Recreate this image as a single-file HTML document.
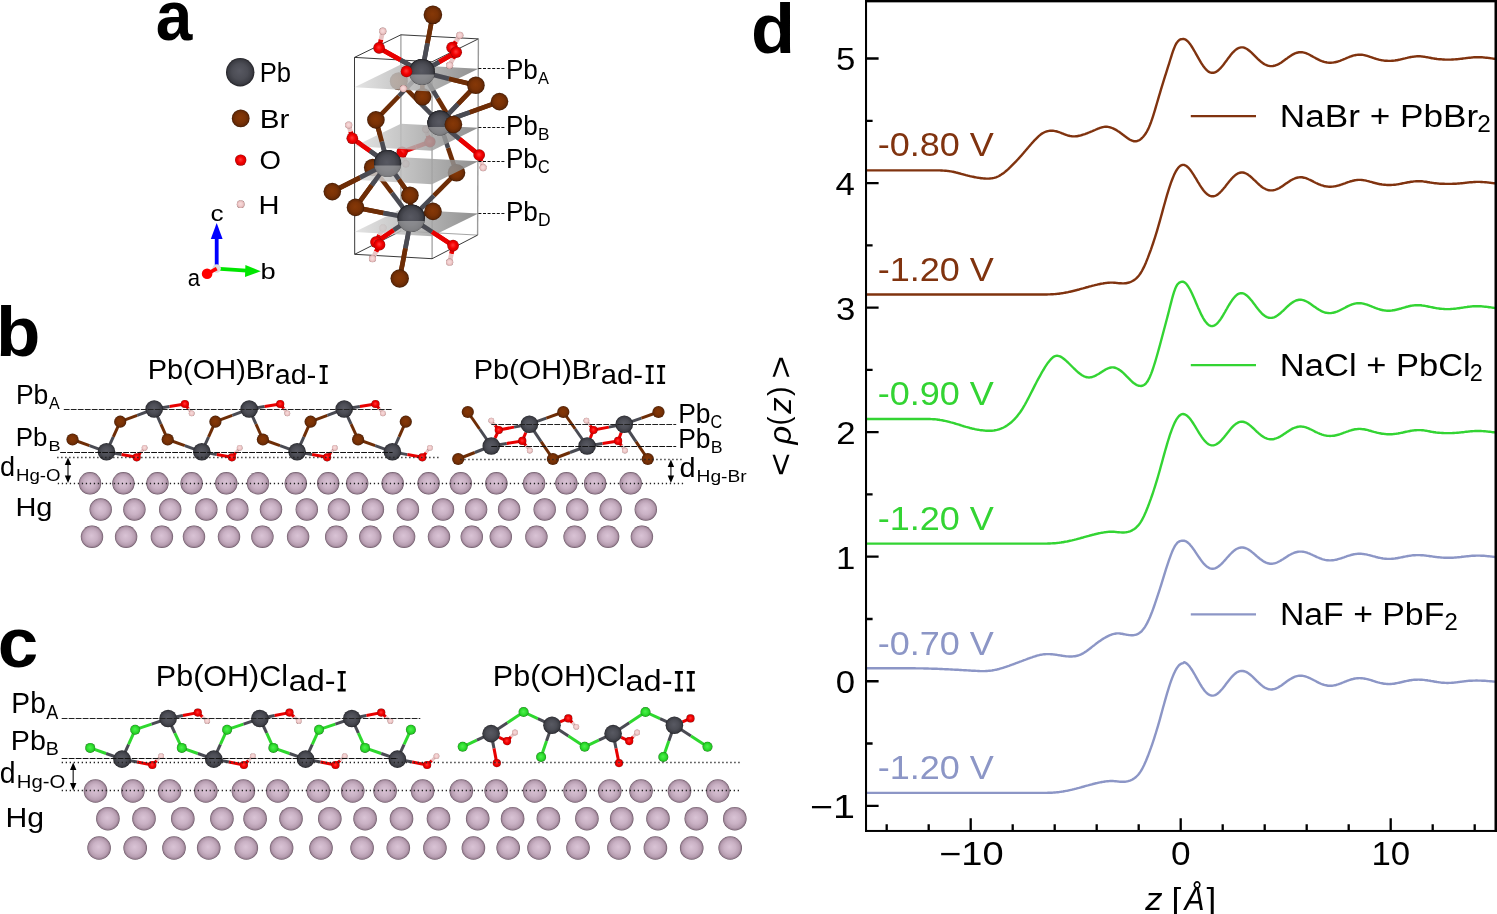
<!DOCTYPE html><html><head><meta charset="utf-8"><style>html,body{margin:0;padding:0;background:#fff;overflow:hidden}svg{display:block}</style></head><body>
<svg width="1497" height="914" viewBox="0 0 1497 914">
<defs><radialGradient id="gPb" cx="0.5" cy="0.5" r="0.5" fx="0.47" fy="0.45"><stop offset="0" stop-color="#585962"/><stop offset="0.55" stop-color="#4c4d55"/><stop offset="0.85" stop-color="#3c3d44"/><stop offset="0.95" stop-color="#2c2c32"/><stop offset="1" stop-color="#1c1c20"/></radialGradient><radialGradient id="gBr" cx="0.5" cy="0.5" r="0.5" fx="0.47" fy="0.45"><stop offset="0" stop-color="#863807"/><stop offset="0.55" stop-color="#7a3206"/><stop offset="0.85" stop-color="#652905"/><stop offset="0.95" stop-color="#4e1f04"/><stop offset="1" stop-color="#361502"/></radialGradient><radialGradient id="gO" cx="0.5" cy="0.5" r="0.5" fx="0.47" fy="0.45"><stop offset="0" stop-color="#ff3a3a"/><stop offset="0.55" stop-color="#f40000"/><stop offset="0.85" stop-color="#d80000"/><stop offset="0.95" stop-color="#b00000"/><stop offset="1" stop-color="#7a0000"/></radialGradient><radialGradient id="gH" cx="0.5" cy="0.5" r="0.5" fx="0.47" fy="0.45"><stop offset="0" stop-color="#f8dcdc"/><stop offset="0.55" stop-color="#f0cccc"/><stop offset="0.85" stop-color="#e0b4b4"/><stop offset="0.95" stop-color="#c89a9a"/><stop offset="1" stop-color="#9a7070"/></radialGradient><radialGradient id="gHg" cx="0.5" cy="0.5" r="0.5" fx="0.47" fy="0.45"><stop offset="0" stop-color="#d9c3d5"/><stop offset="0.5" stop-color="#cab2c5"/><stop offset="0.8" stop-color="#b69db0"/><stop offset="0.92" stop-color="#9a8194"/><stop offset="1" stop-color="#5e4b59"/></radialGradient><radialGradient id="gCl" cx="0.5" cy="0.5" r="0.5" fx="0.47" fy="0.45"><stop offset="0" stop-color="#50f050"/><stop offset="0.55" stop-color="#30e030"/><stop offset="0.85" stop-color="#22c222"/><stop offset="0.95" stop-color="#189818"/><stop offset="1" stop-color="#0c600c"/></radialGradient><radialGradient id="gGr" cx="0.5" cy="0.5" r="0.5" fx="0.47" fy="0.45"><stop offset="0" stop-color="#eeeeee"/><stop offset="0.7" stop-color="#dddddd"/><stop offset="1" stop-color="#aaaaaa"/></radialGradient><linearGradient id="gPlane" x1="0" y1="0" x2="1" y2="0"><stop offset="0" stop-color="#e0e0e0"/><stop offset="0.5" stop-color="#b0b0b0"/><stop offset="1" stop-color="#7c7c7c"/></linearGradient></defs>
<rect width="1497" height="914" fill="#fff"/>
<g fill="none" stroke-width="2.4" stroke-linejoin="round">
<path d="M866.0 792.9L867.0 792.9 868.0 792.9 869.0 792.9 870.0 792.9 871.0 792.9 872.0 792.9 873.0 792.9 874.0 792.9 875.0 792.9 876.0 792.9 877.0 792.9 878.0 792.9 879.0 792.9 880.0 792.9 881.0 792.9 882.0 792.9 883.0 792.9 884.0 792.9 885.0 792.9 886.0 792.9 887.0 792.9 888.0 792.9 889.0 792.9 890.0 792.9 891.0 792.9 892.0 792.9 893.0 792.9 894.0 792.9 895.0 792.9 896.0 792.9 897.0 792.9 898.0 792.9 899.0 792.9 900.0 792.9 901.0 792.9 902.0 792.9 903.0 792.9 904.0 792.9 905.0 792.9 906.0 792.9 907.0 792.9 908.0 792.9 909.0 792.9 910.0 792.9 911.0 792.9 912.0 792.9 913.0 792.9 914.0 792.9 915.0 792.9 916.0 792.9 917.0 792.9 918.0 792.9 919.0 792.9 920.0 792.9 921.0 792.9 922.0 792.9 923.0 792.9 924.0 792.9 925.0 792.9 926.0 792.9 927.0 792.9 928.0 792.9 929.0 792.9 930.0 792.9 931.0 792.9 932.0 792.9 933.0 792.9 934.0 792.9 935.0 792.9 936.0 792.9 937.0 792.9 938.0 792.9 939.0 792.9 940.0 792.9 941.0 792.9 942.0 792.9 943.0 792.9 944.0 792.9 945.0 792.9 946.0 792.9 947.0 792.9 948.0 792.9 949.0 792.9 950.0 792.9 951.0 792.9 952.0 792.9 953.0 792.9 954.0 792.9 955.0 792.9 956.0 792.9 957.0 792.9 958.0 792.9 959.0 792.9 960.0 792.9 961.0 792.9 962.0 792.9 963.0 792.9 964.0 792.9 965.0 792.9 966.0 792.9 967.0 792.9 968.0 792.9 969.0 792.9 970.0 792.9 971.0 792.9 972.0 792.9 973.0 792.9 974.0 792.9 975.0 792.9 976.0 792.9 977.0 792.9 978.0 792.9 979.0 792.9 980.0 792.9 981.0 792.9 982.0 792.9 983.0 792.9 984.0 792.9 985.0 792.9 986.0 792.9 987.0 792.9 988.0 792.9 989.0 792.9 990.0 792.9 991.0 792.9 992.0 792.9 993.0 792.9 994.0 792.9 995.0 792.9 996.0 792.9 997.0 792.9 998.0 792.9 999.0 792.9 1000.0 792.9 1001.0 792.9 1002.0 792.9 1003.0 792.9 1004.0 792.9 1005.0 792.9 1006.0 792.9 1007.0 792.9 1008.0 792.9 1009.0 792.9 1010.0 792.9 1011.0 792.9 1012.0 792.9 1013.0 792.9 1014.0 792.9 1015.0 792.9 1016.0 792.9 1017.0 792.9 1018.0 792.9 1019.0 792.9 1020.0 792.9 1021.0 792.9 1022.0 792.9 1023.0 792.9 1024.0 792.9 1025.0 792.9 1026.0 792.9 1027.0 792.9 1028.0 792.9 1029.0 792.9 1030.0 792.9 1031.0 792.9 1032.0 792.9 1033.0 792.9 1034.0 792.9 1035.0 792.9 1036.0 792.9 1037.0 792.9 1038.0 792.9 1039.0 792.9 1040.0 792.9 1041.0 792.9 1042.0 792.9 1043.0 792.9 1044.0 792.9 1045.0 792.9 1046.0 792.9 1047.0 792.9 1048.0 792.8 1049.0 792.8 1050.0 792.8 1051.0 792.7 1052.0 792.7 1053.0 792.6 1054.0 792.5 1055.0 792.5 1056.0 792.4 1057.0 792.3 1058.0 792.2 1059.0 792.1 1060.0 791.9 1061.0 791.8 1062.0 791.6 1063.0 791.5 1064.0 791.3 1065.0 791.1 1066.0 790.9 1067.0 790.8 1068.0 790.6 1069.0 790.3 1070.0 790.1 1071.0 789.9 1072.0 789.7 1073.0 789.4 1074.0 789.2 1075.0 788.9 1076.0 788.7 1077.0 788.4 1078.0 788.1 1079.0 787.9 1080.0 787.6 1081.0 787.3 1082.0 787.0 1083.0 786.8 1084.0 786.5 1085.0 786.2 1086.0 785.9 1087.0 785.6 1088.0 785.4 1089.0 785.1 1090.0 784.8 1091.0 784.6 1092.0 784.3 1093.0 784.0 1094.0 783.8 1095.0 783.5 1096.0 783.3 1097.0 783.1 1098.0 782.8 1099.0 782.6 1100.0 782.4 1101.0 782.2 1102.0 782.0 1103.0 781.9 1104.0 781.7 1105.0 781.5 1106.0 781.4 1107.0 781.3 1108.0 781.2 1109.0 781.1 1110.0 781.0 1111.0 781.0 1112.0 781.0 1113.0 781.0 1114.0 781.1 1115.0 781.2 1116.0 781.3 1117.0 781.4 1118.0 781.5 1119.0 781.6 1120.0 781.7 1121.0 781.7 1122.0 781.8 1123.0 781.8 1124.0 781.8 1125.0 781.7 1126.0 781.6 1127.0 781.4 1128.0 781.2 1129.0 780.9 1130.0 780.6 1131.0 780.2 1132.0 779.7 1133.0 779.1 1134.0 778.5 1135.0 777.8 1136.0 777.0 1137.0 776.0 1138.0 775.0 1139.0 773.8 1140.0 772.4 1141.0 770.9 1142.0 769.2 1143.0 767.3 1144.0 765.3 1145.0 763.1 1146.0 760.8 1147.0 758.3 1148.0 755.8 1149.0 753.1 1150.0 750.4 1151.0 747.7 1152.0 744.8 1153.0 741.9 1154.0 738.8 1155.0 735.7 1156.0 732.5 1157.0 729.2 1158.0 725.8 1159.0 722.3 1160.0 718.8 1161.0 715.1 1162.0 711.5 1163.0 707.8 1164.0 704.2 1165.0 700.6 1166.0 697.1 1167.0 693.6 1168.0 690.3 1169.0 687.1 1170.0 684.0 1171.0 681.1 1172.0 678.4 1173.0 675.9 1174.0 673.5 1175.0 671.4 1176.0 669.5 1177.0 667.9 1178.0 666.5 1179.0 665.3 1180.0 664.5 1181.0 663.8 1182.0 663.4 1183.0 663.3 1184.0 662.2 1185.0 662.5 1186.0 663.1 1187.0 663.8 1188.0 664.7 1189.0 665.8 1190.0 667.1 1191.0 668.5 1192.0 670.0 1193.0 671.6 1194.0 673.3 1195.0 675.0 1196.0 676.8 1197.0 678.6 1198.0 680.4 1199.0 682.2 1200.0 683.9 1201.0 685.5 1202.0 687.1 1203.0 688.6 1204.0 689.9 1205.0 691.2 1206.0 692.3 1207.0 693.2 1208.0 694.0 1209.0 694.7 1210.0 695.1 1211.0 695.5 1212.0 695.6 1213.0 695.6 1214.0 695.4 1215.0 695.1 1216.0 694.6 1217.0 694.0 1218.0 693.2 1219.0 692.4 1220.0 691.4 1221.0 690.3 1222.0 689.2 1223.0 688.0 1224.0 686.7 1225.0 685.4 1226.0 684.1 1227.0 682.8 1228.0 681.5 1229.0 680.2 1230.0 678.9 1231.0 677.7 1232.0 676.6 1233.0 675.6 1234.0 674.6 1235.0 673.8 1236.0 673.0 1237.0 672.3 1238.0 671.8 1239.0 671.4 1240.0 671.1 1241.0 671.0 1242.0 670.9 1243.0 671.0 1244.0 671.2 1245.0 671.5 1246.0 671.9 1247.0 672.4 1248.0 673.0 1249.0 673.7 1250.0 674.5 1251.0 675.3 1252.0 676.2 1253.0 677.1 1254.0 678.1 1255.0 679.1 1256.0 680.1 1257.0 681.1 1258.0 682.0 1259.0 683.0 1260.0 683.9 1261.0 684.8 1262.0 685.6 1263.0 686.4 1264.0 687.1 1265.0 687.7 1266.0 688.2 1267.0 688.6 1268.0 689.0 1269.0 689.3 1270.0 689.4 1271.0 689.5 1272.0 689.5 1273.0 689.3 1274.0 689.1 1275.0 688.8 1276.0 688.5 1277.0 688.0 1278.0 687.5 1279.0 686.9 1280.0 686.3 1281.0 685.7 1282.0 685.0 1283.0 684.2 1284.0 683.5 1285.0 682.8 1286.0 682.0 1287.0 681.3 1288.0 680.6 1289.0 679.9 1290.0 679.3 1291.0 678.7 1292.0 678.1 1293.0 677.6 1294.0 677.1 1295.0 676.7 1296.0 676.4 1297.0 676.1 1298.0 675.9 1299.0 675.8 1300.0 675.7 1301.0 675.7 1302.0 675.8 1303.0 675.9 1304.0 676.1 1305.0 676.3 1306.0 676.6 1307.0 677.0 1308.0 677.4 1309.0 677.8 1310.0 678.2 1311.0 678.7 1312.0 679.2 1313.0 679.7 1314.0 680.3 1315.0 680.8 1316.0 681.3 1317.0 681.9 1318.0 682.4 1319.0 682.9 1320.0 683.3 1321.0 683.8 1322.0 684.2 1323.0 684.5 1324.0 684.8 1325.0 685.1 1326.0 685.3 1327.0 685.5 1328.0 685.7 1329.0 685.7 1330.0 685.8 1331.0 685.7 1332.0 685.7 1333.0 685.6 1334.0 685.4 1335.0 685.2 1336.0 685.0 1337.0 684.7 1338.0 684.4 1339.0 684.0 1340.0 683.7 1341.0 683.3 1342.0 682.9 1343.0 682.5 1344.0 682.1 1345.0 681.7 1346.0 681.3 1347.0 680.9 1348.0 680.5 1349.0 680.2 1350.0 679.8 1351.0 679.5 1352.0 679.2 1353.0 679.0 1354.0 678.7 1355.0 678.5 1356.0 678.4 1357.0 678.3 1358.0 678.2 1359.0 678.1 1360.0 678.1 1361.0 678.2 1362.0 678.3 1363.0 678.4 1364.0 678.5 1365.0 678.7 1366.0 678.9 1367.0 679.1 1368.0 679.3 1369.0 679.6 1370.0 679.9 1371.0 680.2 1372.0 680.5 1373.0 680.8 1374.0 681.1 1375.0 681.5 1376.0 681.8 1377.0 682.1 1378.0 682.4 1379.0 682.6 1380.0 682.9 1381.0 683.1 1382.0 683.3 1383.0 683.5 1384.0 683.7 1385.0 683.8 1386.0 683.9 1387.0 684.0 1388.0 684.0 1389.0 684.1 1390.0 684.0 1391.0 684.0 1392.0 683.9 1393.0 683.8 1394.0 683.7 1395.0 683.5 1396.0 683.3 1397.0 683.1 1398.0 682.9 1399.0 682.7 1400.0 682.5 1401.0 682.3 1402.0 682.0 1403.0 681.8 1404.0 681.5 1405.0 681.3 1406.0 681.1 1407.0 680.9 1408.0 680.7 1409.0 680.5 1410.0 680.3 1411.0 680.2 1412.0 680.0 1413.0 679.9 1414.0 679.8 1415.0 679.8 1416.0 679.7 1417.0 679.7 1418.0 679.6 1419.0 679.6 1420.0 679.7 1421.0 679.7 1422.0 679.8 1423.0 679.9 1424.0 679.9 1425.0 680.1 1426.0 680.2 1427.0 680.3 1428.0 680.5 1429.0 680.6 1430.0 680.8 1431.0 681.0 1432.0 681.1 1433.0 681.3 1434.0 681.5 1435.0 681.7 1436.0 681.8 1437.0 682.0 1438.0 682.1 1439.0 682.3 1440.0 682.4 1441.0 682.6 1442.0 682.7 1443.0 682.8 1444.0 682.8 1445.0 682.9 1446.0 682.9 1447.0 683.0 1448.0 683.0 1449.0 682.9 1450.0 682.9 1451.0 682.9 1452.0 682.8 1453.0 682.7 1454.0 682.6 1455.0 682.5 1456.0 682.4 1457.0 682.3 1458.0 682.1 1459.0 682.0 1460.0 681.9 1461.0 681.7 1462.0 681.6 1463.0 681.5 1464.0 681.4 1465.0 681.2 1466.0 681.1 1467.0 681.0 1468.0 680.9 1469.0 680.8 1470.0 680.8 1471.0 680.7 1472.0 680.7 1473.0 680.6 1474.0 680.6 1475.0 680.6 1476.0 680.5 1477.0 680.5 1478.0 680.6 1479.0 680.6 1480.0 680.6 1481.0 680.6 1482.0 680.7 1483.0 680.7 1484.0 680.8 1485.0 680.8 1486.0 680.9 1487.0 681.0 1488.0 681.1 1489.0 681.1 1490.0 681.2 1491.0 681.3 1492.0 681.4 1493.0 681.5 1494.0 681.6 1495.0 681.6 1495.5 681.7" stroke="#8c96c6"/>
<path d="M866.0 668.3L867.0 668.3 868.0 668.3 869.0 668.3 870.0 668.3 871.0 668.3 872.0 668.3 873.0 668.3 874.0 668.3 875.0 668.3 876.0 668.3 877.0 668.3 878.0 668.3 879.0 668.3 880.0 668.3 881.0 668.3 882.0 668.3 883.0 668.3 884.0 668.3 885.0 668.3 886.0 668.3 887.0 668.3 888.0 668.3 889.0 668.3 890.0 668.3 891.0 668.3 892.0 668.3 893.0 668.3 894.0 668.3 895.0 668.3 896.0 668.3 897.0 668.3 898.0 668.3 899.0 668.3 900.0 668.3 901.0 668.3 902.0 668.3 903.0 668.3 904.0 668.3 905.0 668.3 906.0 668.3 907.0 668.3 908.0 668.3 909.0 668.3 910.0 668.3 911.0 668.3 912.0 668.3 913.0 668.3 914.0 668.3 915.0 668.3 916.0 668.4 917.0 668.4 918.0 668.4 919.0 668.4 920.0 668.4 921.0 668.4 922.0 668.4 923.0 668.4 924.0 668.5 925.0 668.5 926.0 668.5 927.0 668.5 928.0 668.5 929.0 668.6 930.0 668.6 931.0 668.6 932.0 668.7 933.0 668.7 934.0 668.7 935.0 668.8 936.0 668.8 937.0 668.8 938.0 668.9 939.0 668.9 940.0 669.0 941.0 669.0 942.0 669.0 943.0 669.1 944.0 669.1 945.0 669.2 946.0 669.2 947.0 669.3 948.0 669.3 949.0 669.4 950.0 669.4 951.0 669.5 952.0 669.5 953.0 669.6 954.0 669.6 955.0 669.7 956.0 669.7 957.0 669.8 958.0 669.8 959.0 669.9 960.0 670.0 961.0 670.0 962.0 670.1 963.0 670.1 964.0 670.2 965.0 670.2 966.0 670.3 967.0 670.4 968.0 670.4 969.0 670.5 970.0 670.5 971.0 670.6 972.0 670.7 973.0 670.7 974.0 670.8 975.0 670.8 976.0 670.9 977.0 670.9 978.0 671.0 979.0 671.0 980.0 671.1 981.0 671.1 982.0 671.1 983.0 671.1 984.0 671.1 985.0 671.1 986.0 671.0 987.0 671.0 988.0 670.9 989.0 670.8 990.0 670.7 991.0 670.6 992.0 670.5 993.0 670.3 994.0 670.1 995.0 669.9 996.0 669.7 997.0 669.5 998.0 669.2 999.0 669.0 1000.0 668.7 1001.0 668.4 1002.0 668.1 1003.0 667.8 1004.0 667.5 1005.0 667.1 1006.0 666.8 1007.0 666.5 1008.0 666.1 1009.0 665.8 1010.0 665.4 1011.0 665.0 1012.0 664.7 1013.0 664.3 1014.0 664.0 1015.0 663.6 1016.0 663.2 1017.0 662.8 1018.0 662.5 1019.0 662.1 1020.0 661.7 1021.0 661.4 1022.0 661.0 1023.0 660.6 1024.0 660.2 1025.0 659.9 1026.0 659.5 1027.0 659.1 1028.0 658.7 1029.0 658.3 1030.0 658.0 1031.0 657.6 1032.0 657.3 1033.0 656.9 1034.0 656.6 1035.0 656.3 1036.0 656.0 1037.0 655.7 1038.0 655.4 1039.0 655.2 1040.0 654.9 1041.0 654.7 1042.0 654.6 1043.0 654.4 1044.0 654.3 1045.0 654.2 1046.0 654.1 1047.0 654.1 1048.0 654.1 1049.0 654.1 1050.0 654.1 1051.0 654.2 1052.0 654.3 1053.0 654.4 1054.0 654.5 1055.0 654.6 1056.0 654.7 1057.0 654.9 1058.0 655.1 1059.0 655.2 1060.0 655.4 1061.0 655.5 1062.0 655.7 1063.0 655.9 1064.0 656.0 1065.0 656.1 1066.0 656.3 1067.0 656.4 1068.0 656.4 1069.0 656.5 1070.0 656.5 1071.0 656.5 1072.0 656.5 1073.0 656.4 1074.0 656.3 1075.0 656.2 1076.0 656.0 1077.0 655.8 1078.0 655.5 1079.0 655.2 1080.0 654.8 1081.0 654.4 1082.0 653.9 1083.0 653.4 1084.0 652.8 1085.0 652.1 1086.0 651.5 1087.0 650.8 1088.0 650.0 1089.0 649.3 1090.0 648.5 1091.0 647.7 1092.0 646.9 1093.0 646.1 1094.0 645.4 1095.0 644.6 1096.0 643.8 1097.0 643.1 1098.0 642.3 1099.0 641.6 1100.0 640.9 1101.0 640.2 1102.0 639.5 1103.0 638.9 1104.0 638.3 1105.0 637.7 1106.0 637.1 1107.0 636.6 1108.0 636.1 1109.0 635.6 1110.0 635.2 1111.0 634.8 1112.0 634.4 1113.0 634.1 1114.0 633.9 1115.0 633.7 1116.0 633.5 1117.0 633.4 1118.0 633.4 1119.0 633.4 1120.0 633.5 1121.0 633.7 1122.0 633.8 1123.0 634.0 1124.0 634.2 1125.0 634.4 1126.0 634.6 1127.0 634.8 1128.0 634.9 1129.0 635.1 1130.0 635.1 1131.0 635.2 1132.0 635.2 1133.0 635.2 1134.0 635.1 1135.0 634.9 1136.0 634.7 1137.0 634.3 1138.0 633.9 1139.0 633.3 1140.0 632.6 1141.0 631.8 1142.0 630.8 1143.0 629.6 1144.0 628.3 1145.0 626.8 1146.0 625.2 1147.0 623.4 1148.0 621.4 1149.0 619.3 1150.0 617.0 1151.0 614.5 1152.0 612.0 1153.0 609.3 1154.0 606.5 1155.0 603.7 1156.0 600.7 1157.0 597.7 1158.0 594.7 1159.0 591.6 1160.0 588.5 1161.0 585.3 1162.0 582.1 1163.0 578.9 1164.0 575.6 1165.0 572.4 1166.0 569.2 1167.0 566.1 1168.0 563.1 1169.0 560.1 1170.0 557.3 1171.0 554.6 1172.0 552.1 1173.0 549.8 1174.0 547.8 1175.0 545.9 1176.0 544.4 1177.0 543.2 1178.0 542.2 1179.0 541.6 1180.0 541.1 1181.0 540.9 1182.0 540.7 1183.0 540.7 1184.0 540.7 1185.0 541.0 1186.0 541.4 1187.0 542.0 1188.0 542.8 1189.0 543.7 1190.0 544.7 1191.0 545.9 1192.0 547.1 1193.0 548.5 1194.0 549.9 1195.0 551.3 1196.0 552.8 1197.0 554.3 1198.0 555.8 1199.0 557.3 1200.0 558.7 1201.0 560.1 1202.0 561.5 1203.0 562.7 1204.0 563.9 1205.0 564.9 1206.0 565.8 1207.0 566.7 1208.0 567.3 1209.0 567.9 1210.0 568.3 1211.0 568.6 1212.0 568.7 1213.0 568.7 1214.0 568.6 1215.0 568.3 1216.0 567.9 1217.0 567.4 1218.0 566.8 1219.0 566.0 1220.0 565.2 1221.0 564.3 1222.0 563.3 1223.0 562.3 1224.0 561.2 1225.0 560.1 1226.0 559.0 1227.0 557.8 1228.0 556.7 1229.0 555.6 1230.0 554.5 1231.0 553.5 1232.0 552.5 1233.0 551.6 1234.0 550.7 1235.0 550.0 1236.0 549.3 1237.0 548.8 1238.0 548.3 1239.0 547.9 1240.0 547.7 1241.0 547.5 1242.0 547.5 1243.0 547.5 1244.0 547.7 1245.0 548.0 1246.0 548.3 1247.0 548.8 1248.0 549.3 1249.0 549.9 1250.0 550.6 1251.0 551.3 1252.0 552.1 1253.0 552.9 1254.0 553.7 1255.0 554.6 1256.0 555.5 1257.0 556.4 1258.0 557.2 1259.0 558.0 1260.0 558.9 1261.0 559.6 1262.0 560.3 1263.0 561.0 1264.0 561.6 1265.0 562.1 1266.0 562.6 1267.0 563.0 1268.0 563.3 1269.0 563.5 1270.0 563.7 1271.0 563.7 1272.0 563.7 1273.0 563.6 1274.0 563.4 1275.0 563.2 1276.0 562.9 1277.0 562.5 1278.0 562.0 1279.0 561.5 1280.0 561.0 1281.0 560.4 1282.0 559.8 1283.0 559.2 1284.0 558.5 1285.0 557.9 1286.0 557.2 1287.0 556.6 1288.0 555.9 1289.0 555.3 1290.0 554.8 1291.0 554.2 1292.0 553.7 1293.0 553.3 1294.0 552.8 1295.0 552.5 1296.0 552.2 1297.0 552.0 1298.0 551.8 1299.0 551.6 1300.0 551.6 1301.0 551.6 1302.0 551.6 1303.0 551.7 1304.0 551.9 1305.0 552.1 1306.0 552.4 1307.0 552.7 1308.0 553.1 1309.0 553.4 1310.0 553.8 1311.0 554.3 1312.0 554.7 1313.0 555.2 1314.0 555.7 1315.0 556.1 1316.0 556.6 1317.0 557.1 1318.0 557.5 1319.0 557.9 1320.0 558.3 1321.0 558.7 1322.0 559.1 1323.0 559.4 1324.0 559.6 1325.0 559.9 1326.0 560.1 1327.0 560.2 1328.0 560.3 1329.0 560.4 1330.0 560.4 1331.0 560.4 1332.0 560.3 1333.0 560.2 1334.0 560.1 1335.0 559.9 1336.0 559.7 1337.0 559.5 1338.0 559.2 1339.0 558.9 1340.0 558.6 1341.0 558.3 1342.0 558.0 1343.0 557.6 1344.0 557.3 1345.0 556.9 1346.0 556.6 1347.0 556.2 1348.0 555.9 1349.0 555.6 1350.0 555.3 1351.0 555.0 1352.0 554.7 1353.0 554.5 1354.0 554.3 1355.0 554.1 1356.0 554.0 1357.0 553.9 1358.0 553.8 1359.0 553.8 1360.0 553.8 1361.0 553.8 1362.0 553.9 1363.0 554.0 1364.0 554.1 1365.0 554.3 1366.0 554.4 1367.0 554.6 1368.0 554.9 1369.0 555.1 1370.0 555.3 1371.0 555.6 1372.0 555.9 1373.0 556.2 1374.0 556.4 1375.0 556.7 1376.0 557.0 1377.0 557.2 1378.0 557.5 1379.0 557.7 1380.0 557.9 1381.0 558.1 1382.0 558.3 1383.0 558.5 1384.0 558.6 1385.0 558.7 1386.0 558.8 1387.0 558.9 1388.0 558.9 1389.0 558.9 1390.0 558.9 1391.0 558.9 1392.0 558.8 1393.0 558.7 1394.0 558.6 1395.0 558.5 1396.0 558.3 1397.0 558.2 1398.0 558.0 1399.0 557.8 1400.0 557.6 1401.0 557.4 1402.0 557.2 1403.0 557.0 1404.0 556.8 1405.0 556.6 1406.0 556.4 1407.0 556.2 1408.0 556.0 1409.0 555.9 1410.0 555.7 1411.0 555.6 1412.0 555.4 1413.0 555.3 1414.0 555.2 1415.0 555.2 1416.0 555.1 1417.0 555.1 1418.0 555.1 1419.0 555.1 1420.0 555.1 1421.0 555.2 1422.0 555.2 1423.0 555.3 1424.0 555.4 1425.0 555.5 1426.0 555.6 1427.0 555.8 1428.0 555.9 1429.0 556.0 1430.0 556.2 1431.0 556.3 1432.0 556.4 1433.0 556.6 1434.0 556.7 1435.0 556.9 1436.0 557.0 1437.0 557.1 1438.0 557.2 1439.0 557.3 1440.0 557.4 1441.0 557.5 1442.0 557.6 1443.0 557.6 1444.0 557.7 1445.0 557.7 1446.0 557.8 1447.0 557.8 1448.0 557.8 1449.0 557.8 1450.0 557.8 1451.0 557.8 1452.0 557.7 1453.0 557.7 1454.0 557.6 1455.0 557.5 1456.0 557.5 1457.0 557.4 1458.0 557.3 1459.0 557.2 1460.0 557.1 1461.0 557.0 1462.0 556.8 1463.0 556.7 1464.0 556.6 1465.0 556.5 1466.0 556.4 1467.0 556.3 1468.0 556.2 1469.0 556.1 1470.0 556.0 1471.0 555.9 1472.0 555.8 1473.0 555.7 1474.0 555.7 1475.0 555.7 1476.0 555.6 1477.0 555.6 1478.0 555.6 1479.0 555.6 1480.0 555.6 1481.0 555.7 1482.0 555.7 1483.0 555.8 1484.0 555.8 1485.0 555.9 1486.0 556.0 1487.0 556.1 1488.0 556.2 1489.0 556.3 1490.0 556.4 1491.0 556.5 1492.0 556.6 1493.0 556.7 1494.0 556.9 1495.0 557.0 1495.5 557.0" stroke="#8c96c6"/>
<path d="M866.0 543.6L867.0 543.6 868.0 543.6 869.0 543.6 870.0 543.6 871.0 543.6 872.0 543.6 873.0 543.6 874.0 543.6 875.0 543.6 876.0 543.6 877.0 543.6 878.0 543.6 879.0 543.6 880.0 543.6 881.0 543.6 882.0 543.6 883.0 543.6 884.0 543.6 885.0 543.6 886.0 543.6 887.0 543.6 888.0 543.6 889.0 543.6 890.0 543.6 891.0 543.6 892.0 543.6 893.0 543.6 894.0 543.6 895.0 543.6 896.0 543.6 897.0 543.6 898.0 543.6 899.0 543.6 900.0 543.6 901.0 543.6 902.0 543.6 903.0 543.6 904.0 543.6 905.0 543.6 906.0 543.6 907.0 543.6 908.0 543.6 909.0 543.6 910.0 543.6 911.0 543.6 912.0 543.6 913.0 543.6 914.0 543.6 915.0 543.6 916.0 543.6 917.0 543.6 918.0 543.6 919.0 543.6 920.0 543.6 921.0 543.6 922.0 543.6 923.0 543.6 924.0 543.6 925.0 543.6 926.0 543.6 927.0 543.6 928.0 543.6 929.0 543.6 930.0 543.6 931.0 543.6 932.0 543.6 933.0 543.6 934.0 543.6 935.0 543.6 936.0 543.6 937.0 543.6 938.0 543.6 939.0 543.6 940.0 543.6 941.0 543.6 942.0 543.6 943.0 543.6 944.0 543.6 945.0 543.6 946.0 543.6 947.0 543.6 948.0 543.6 949.0 543.6 950.0 543.6 951.0 543.6 952.0 543.6 953.0 543.6 954.0 543.6 955.0 543.6 956.0 543.6 957.0 543.6 958.0 543.6 959.0 543.6 960.0 543.6 961.0 543.6 962.0 543.6 963.0 543.6 964.0 543.6 965.0 543.6 966.0 543.6 967.0 543.6 968.0 543.6 969.0 543.6 970.0 543.6 971.0 543.6 972.0 543.6 973.0 543.6 974.0 543.6 975.0 543.6 976.0 543.6 977.0 543.6 978.0 543.6 979.0 543.6 980.0 543.6 981.0 543.6 982.0 543.6 983.0 543.6 984.0 543.6 985.0 543.6 986.0 543.6 987.0 543.6 988.0 543.6 989.0 543.6 990.0 543.6 991.0 543.6 992.0 543.6 993.0 543.6 994.0 543.6 995.0 543.6 996.0 543.6 997.0 543.6 998.0 543.6 999.0 543.6 1000.0 543.6 1001.0 543.6 1002.0 543.6 1003.0 543.6 1004.0 543.6 1005.0 543.6 1006.0 543.6 1007.0 543.6 1008.0 543.6 1009.0 543.6 1010.0 543.6 1011.0 543.6 1012.0 543.6 1013.0 543.6 1014.0 543.6 1015.0 543.6 1016.0 543.6 1017.0 543.6 1018.0 543.6 1019.0 543.6 1020.0 543.6 1021.0 543.6 1022.0 543.6 1023.0 543.6 1024.0 543.6 1025.0 543.6 1026.0 543.6 1027.0 543.6 1028.0 543.6 1029.0 543.6 1030.0 543.6 1031.0 543.6 1032.0 543.6 1033.0 543.6 1034.0 543.6 1035.0 543.6 1036.0 543.6 1037.0 543.6 1038.0 543.6 1039.0 543.6 1040.0 543.6 1041.0 543.6 1042.0 543.6 1043.0 543.6 1044.0 543.6 1045.0 543.6 1046.0 543.6 1047.0 543.6 1048.0 543.5 1049.0 543.5 1050.0 543.5 1051.0 543.4 1052.0 543.4 1053.0 543.3 1054.0 543.2 1055.0 543.2 1056.0 543.1 1057.0 543.0 1058.0 542.9 1059.0 542.8 1060.0 542.6 1061.0 542.5 1062.0 542.3 1063.0 542.2 1064.0 542.0 1065.0 541.8 1066.0 541.6 1067.0 541.5 1068.0 541.3 1069.0 541.0 1070.0 540.8 1071.0 540.6 1072.0 540.4 1073.0 540.1 1074.0 539.9 1075.0 539.6 1076.0 539.4 1077.0 539.1 1078.0 538.8 1079.0 538.6 1080.0 538.3 1081.0 538.0 1082.0 537.7 1083.0 537.5 1084.0 537.2 1085.0 536.9 1086.0 536.6 1087.0 536.3 1088.0 536.1 1089.0 535.8 1090.0 535.5 1091.0 535.3 1092.0 535.0 1093.0 534.7 1094.0 534.5 1095.0 534.2 1096.0 534.0 1097.0 533.8 1098.0 533.5 1099.0 533.3 1100.0 533.1 1101.0 532.9 1102.0 532.7 1103.0 532.6 1104.0 532.4 1105.0 532.2 1106.0 532.1 1107.0 532.0 1108.0 531.9 1109.0 531.8 1110.0 531.7 1111.0 531.7 1112.0 531.7 1113.0 531.7 1114.0 531.8 1115.0 531.9 1116.0 532.0 1117.0 532.1 1118.0 532.2 1119.0 532.3 1120.0 532.4 1121.0 532.4 1122.0 532.5 1123.0 532.5 1124.0 532.5 1125.0 532.4 1126.0 532.3 1127.0 532.1 1128.0 531.9 1129.0 531.6 1130.0 531.3 1131.0 530.9 1132.0 530.4 1133.0 529.8 1134.0 529.2 1135.0 528.5 1136.0 527.7 1137.0 526.7 1138.0 525.7 1139.0 524.5 1140.0 523.1 1141.0 521.6 1142.0 519.9 1143.0 518.0 1144.0 516.0 1145.0 513.8 1146.0 511.5 1147.0 509.0 1148.0 506.5 1149.0 503.8 1150.0 501.1 1151.0 498.4 1152.0 495.5 1153.0 492.6 1154.0 489.5 1155.0 486.4 1156.0 483.2 1157.0 479.9 1158.0 476.5 1159.0 473.0 1160.0 469.5 1161.0 465.8 1162.0 462.2 1163.0 458.5 1164.0 454.9 1165.0 451.3 1166.0 447.8 1167.0 444.3 1168.0 441.0 1169.0 437.8 1170.0 434.7 1171.0 431.8 1172.0 429.1 1173.0 426.6 1174.0 424.2 1175.0 422.1 1176.0 420.2 1177.0 418.6 1178.0 417.2 1179.0 416.0 1180.0 415.2 1181.0 414.5 1182.0 414.1 1183.0 414.0 1184.0 414.2 1185.0 414.5 1186.0 415.0 1187.0 415.7 1188.0 416.6 1189.0 417.6 1190.0 418.8 1191.0 420.1 1192.0 421.5 1193.0 423.0 1194.0 424.6 1195.0 426.2 1196.0 427.8 1197.0 429.5 1198.0 431.2 1199.0 432.8 1200.0 434.4 1201.0 435.9 1202.0 437.4 1203.0 438.8 1204.0 440.0 1205.0 441.2 1206.0 442.2 1207.0 443.1 1208.0 443.9 1209.0 444.5 1210.0 444.9 1211.0 445.2 1212.0 445.4 1213.0 445.4 1214.0 445.2 1215.0 444.9 1216.0 444.5 1217.0 443.9 1218.0 443.3 1219.0 442.5 1220.0 441.6 1221.0 440.6 1222.0 439.5 1223.0 438.4 1224.0 437.2 1225.0 435.9 1226.0 434.7 1227.0 433.4 1228.0 432.2 1229.0 430.9 1230.0 429.7 1231.0 428.5 1232.0 427.4 1233.0 426.4 1234.0 425.4 1235.0 424.6 1236.0 423.8 1237.0 423.2 1238.0 422.6 1239.0 422.2 1240.0 421.9 1241.0 421.8 1242.0 421.7 1243.0 421.8 1244.0 422.0 1245.0 422.3 1246.0 422.7 1247.0 423.3 1248.0 423.9 1249.0 424.6 1250.0 425.4 1251.0 426.2 1252.0 427.1 1253.0 428.0 1254.0 428.9 1255.0 429.9 1256.0 430.8 1257.0 431.8 1258.0 432.7 1259.0 433.6 1260.0 434.4 1261.0 435.2 1262.0 435.9 1263.0 436.6 1264.0 437.2 1265.0 437.8 1266.0 438.2 1267.0 438.6 1268.0 438.9 1269.0 439.1 1270.0 439.2 1271.0 439.3 1272.0 439.3 1273.0 439.2 1274.0 439.0 1275.0 438.7 1276.0 438.4 1277.0 438.0 1278.0 437.6 1279.0 437.1 1280.0 436.6 1281.0 436.0 1282.0 435.4 1283.0 434.7 1284.0 434.0 1285.0 433.4 1286.0 432.7 1287.0 432.0 1288.0 431.4 1289.0 430.7 1290.0 430.1 1291.0 429.5 1292.0 428.9 1293.0 428.4 1294.0 428.0 1295.0 427.6 1296.0 427.3 1297.0 427.0 1298.0 426.8 1299.0 426.6 1300.0 426.5 1301.0 426.5 1302.0 426.6 1303.0 426.7 1304.0 426.9 1305.0 427.1 1306.0 427.4 1307.0 427.8 1308.0 428.2 1309.0 428.6 1310.0 429.1 1311.0 429.5 1312.0 430.0 1313.0 430.5 1314.0 431.0 1315.0 431.6 1316.0 432.1 1317.0 432.5 1318.0 433.0 1319.0 433.4 1320.0 433.9 1321.0 434.2 1322.0 434.6 1323.0 434.9 1324.0 435.2 1325.0 435.4 1326.0 435.6 1327.0 435.8 1328.0 435.9 1329.0 435.9 1330.0 436.0 1331.0 435.9 1332.0 435.9 1333.0 435.8 1334.0 435.7 1335.0 435.5 1336.0 435.3 1337.0 435.0 1338.0 434.8 1339.0 434.5 1340.0 434.2 1341.0 433.8 1342.0 433.5 1343.0 433.1 1344.0 432.7 1345.0 432.4 1346.0 432.0 1347.0 431.6 1348.0 431.3 1349.0 430.9 1350.0 430.6 1351.0 430.3 1352.0 430.0 1353.0 429.8 1354.0 429.5 1355.0 429.3 1356.0 429.2 1357.0 429.1 1358.0 429.0 1359.0 428.9 1360.0 428.9 1361.0 429.0 1362.0 429.1 1363.0 429.2 1364.0 429.3 1365.0 429.5 1366.0 429.7 1367.0 429.9 1368.0 430.2 1369.0 430.5 1370.0 430.7 1371.0 431.0 1372.0 431.3 1373.0 431.6 1374.0 431.9 1375.0 432.1 1376.0 432.4 1377.0 432.7 1378.0 432.9 1379.0 433.1 1380.0 433.3 1381.0 433.5 1382.0 433.7 1383.0 433.8 1384.0 433.9 1385.0 434.0 1386.0 434.1 1387.0 434.2 1388.0 434.2 1389.0 434.2 1390.0 434.2 1391.0 434.2 1392.0 434.2 1393.0 434.1 1394.0 434.0 1395.0 433.9 1396.0 433.8 1397.0 433.6 1398.0 433.5 1399.0 433.3 1400.0 433.1 1401.0 432.9 1402.0 432.7 1403.0 432.5 1404.0 432.2 1405.0 432.0 1406.0 431.8 1407.0 431.6 1408.0 431.4 1409.0 431.2 1410.0 431.0 1411.0 430.8 1412.0 430.6 1413.0 430.5 1414.0 430.4 1415.0 430.2 1416.0 430.2 1417.0 430.1 1418.0 430.1 1419.0 430.1 1420.0 430.1 1421.0 430.1 1422.0 430.2 1423.0 430.3 1424.0 430.4 1425.0 430.6 1426.0 430.7 1427.0 430.9 1428.0 431.1 1429.0 431.3 1430.0 431.5 1431.0 431.7 1432.0 431.9 1433.0 432.0 1434.0 432.2 1435.0 432.3 1436.0 432.5 1437.0 432.6 1438.0 432.7 1439.0 432.8 1440.0 432.9 1441.0 432.9 1442.0 433.0 1443.0 433.0 1444.0 433.1 1445.0 433.1 1446.0 433.1 1447.0 433.1 1448.0 433.1 1449.0 433.1 1450.0 433.1 1451.0 433.1 1452.0 433.1 1453.0 433.0 1454.0 433.0 1455.0 432.9 1456.0 432.9 1457.0 432.8 1458.0 432.7 1459.0 432.6 1460.0 432.5 1461.0 432.4 1462.0 432.3 1463.0 432.2 1464.0 432.1 1465.0 431.9 1466.0 431.8 1467.0 431.7 1468.0 431.6 1469.0 431.5 1470.0 431.4 1471.0 431.3 1472.0 431.2 1473.0 431.1 1474.0 431.1 1475.0 431.0 1476.0 431.0 1477.0 431.0 1478.0 431.0 1479.0 431.0 1480.0 431.0 1481.0 431.0 1482.0 431.1 1483.0 431.1 1484.0 431.2 1485.0 431.3 1486.0 431.4 1487.0 431.5 1488.0 431.6 1489.0 431.7 1490.0 431.8 1491.0 431.9 1492.0 432.1 1493.0 432.2 1494.0 432.3 1495.0 432.4 1495.5 432.5" stroke="#33d433"/>
<path d="M866.0 419.0L867.0 419.0 868.0 419.0 869.0 419.0 870.0 419.0 871.0 419.0 872.0 419.0 873.0 419.0 874.0 419.0 875.0 419.0 876.0 419.0 877.0 419.0 878.0 419.0 879.0 419.0 880.0 419.0 881.0 419.0 882.0 419.0 883.0 419.0 884.0 419.0 885.0 419.0 886.0 419.0 887.0 419.0 888.0 419.0 889.0 419.0 890.0 419.0 891.0 419.0 892.0 419.0 893.0 419.0 894.0 419.0 895.0 419.0 896.0 419.0 897.0 419.0 898.0 419.0 899.0 419.0 900.0 419.0 901.0 419.0 902.0 419.0 903.0 419.0 904.0 419.0 905.0 419.0 906.0 419.0 907.0 419.0 908.0 419.0 909.0 419.0 910.0 419.0 911.0 419.0 912.0 419.0 913.0 419.0 914.0 419.0 915.0 419.0 916.0 419.0 917.0 419.0 918.0 419.0 919.0 419.0 920.0 419.0 921.0 419.0 922.0 419.0 923.0 419.0 924.0 419.0 925.0 419.0 926.0 419.0 927.0 419.0 928.0 419.0 929.0 419.0 930.0 419.0 931.0 419.1 932.0 419.1 933.0 419.2 934.0 419.2 935.0 419.3 936.0 419.4 937.0 419.5 938.0 419.7 939.0 419.8 940.0 420.0 941.0 420.1 942.0 420.3 943.0 420.5 944.0 420.7 945.0 420.9 946.0 421.1 947.0 421.3 948.0 421.6 949.0 421.8 950.0 422.1 951.0 422.4 952.0 422.6 953.0 422.9 954.0 423.2 955.0 423.5 956.0 423.8 957.0 424.1 958.0 424.4 959.0 424.7 960.0 425.0 961.0 425.3 962.0 425.7 963.0 426.0 964.0 426.3 965.0 426.6 966.0 426.9 967.0 427.1 968.0 427.4 969.0 427.7 970.0 428.0 971.0 428.2 972.0 428.5 973.0 428.7 974.0 428.9 975.0 429.2 976.0 429.4 977.0 429.6 978.0 429.7 979.0 429.9 980.0 430.1 981.0 430.2 982.0 430.3 983.0 430.4 984.0 430.5 985.0 430.6 986.0 430.7 987.0 430.8 988.0 430.8 989.0 430.8 990.0 430.8 991.0 430.8 992.0 430.7 993.0 430.6 994.0 430.5 995.0 430.3 996.0 430.1 997.0 429.9 998.0 429.6 999.0 429.3 1000.0 429.0 1001.0 428.6 1002.0 428.2 1003.0 427.8 1004.0 427.3 1005.0 426.7 1006.0 426.1 1007.0 425.5 1008.0 424.8 1009.0 424.1 1010.0 423.3 1011.0 422.5 1012.0 421.6 1013.0 420.7 1014.0 419.7 1015.0 418.6 1016.0 417.5 1017.0 416.4 1018.0 415.1 1019.0 413.8 1020.0 412.5 1021.0 411.0 1022.0 409.5 1023.0 407.9 1024.0 406.2 1025.0 404.5 1026.0 402.7 1027.0 400.8 1028.0 398.9 1029.0 397.0 1030.0 395.0 1031.0 393.0 1032.0 391.1 1033.0 389.1 1034.0 387.1 1035.0 385.1 1036.0 383.2 1037.0 381.3 1038.0 379.4 1039.0 377.6 1040.0 375.8 1041.0 374.0 1042.0 372.2 1043.0 370.5 1044.0 368.9 1045.0 367.2 1046.0 365.7 1047.0 364.2 1048.0 362.7 1049.0 361.4 1050.0 360.2 1051.0 359.1 1052.0 358.1 1053.0 357.3 1054.0 356.6 1055.0 356.2 1056.0 355.9 1057.0 355.8 1058.0 355.9 1059.0 356.1 1060.0 356.4 1061.0 356.9 1062.0 357.5 1063.0 358.2 1064.0 359.0 1065.0 359.8 1066.0 360.7 1067.0 361.6 1068.0 362.5 1069.0 363.5 1070.0 364.5 1071.0 365.5 1072.0 366.5 1073.0 367.5 1074.0 368.5 1075.0 369.4 1076.0 370.4 1077.0 371.3 1078.0 372.2 1079.0 373.0 1080.0 373.8 1081.0 374.5 1082.0 375.2 1083.0 375.7 1084.0 376.3 1085.0 376.7 1086.0 377.0 1087.0 377.3 1088.0 377.4 1089.0 377.5 1090.0 377.4 1091.0 377.2 1092.0 377.0 1093.0 376.7 1094.0 376.3 1095.0 375.9 1096.0 375.4 1097.0 374.8 1098.0 374.3 1099.0 373.7 1100.0 373.0 1101.0 372.4 1102.0 371.7 1103.0 371.1 1104.0 370.5 1105.0 369.9 1106.0 369.3 1107.0 368.8 1108.0 368.4 1109.0 368.0 1110.0 367.7 1111.0 367.5 1112.0 367.4 1113.0 367.4 1114.0 367.5 1115.0 367.7 1116.0 368.1 1117.0 368.5 1118.0 369.0 1119.0 369.6 1120.0 370.2 1121.0 371.0 1122.0 371.8 1123.0 372.7 1124.0 373.6 1125.0 374.6 1126.0 375.6 1127.0 376.7 1128.0 377.7 1129.0 378.7 1130.0 379.7 1131.0 380.7 1132.0 381.6 1133.0 382.5 1134.0 383.3 1135.0 383.9 1136.0 384.6 1137.0 385.1 1138.0 385.5 1139.0 385.8 1140.0 385.9 1141.0 386.0 1142.0 385.8 1143.0 385.5 1144.0 385.0 1145.0 384.3 1146.0 383.3 1147.0 382.1 1148.0 380.5 1149.0 378.7 1150.0 376.5 1151.0 374.1 1152.0 371.5 1153.0 368.6 1154.0 365.5 1155.0 362.3 1156.0 359.0 1157.0 355.5 1158.0 352.0 1159.0 348.4 1160.0 344.7 1161.0 341.0 1162.0 337.3 1163.0 333.5 1164.0 329.8 1165.0 326.0 1166.0 322.3 1167.0 318.5 1168.0 314.6 1169.0 310.8 1170.0 306.8 1171.0 302.9 1172.0 299.0 1173.0 295.4 1174.0 292.1 1175.0 289.3 1176.0 286.9 1177.0 285.1 1178.0 283.8 1179.0 282.9 1180.0 282.3 1181.0 281.9 1182.0 281.8 1183.0 281.7 1184.0 282.1 1185.0 282.7 1186.0 283.6 1187.0 284.8 1188.0 286.2 1189.0 287.8 1190.0 289.5 1191.0 291.5 1192.0 293.6 1193.0 295.8 1194.0 298.0 1195.0 300.3 1196.0 302.7 1197.0 305.0 1198.0 307.4 1199.0 309.6 1200.0 311.8 1201.0 313.9 1202.0 315.9 1203.0 317.8 1204.0 319.5 1205.0 321.0 1206.0 322.3 1207.0 323.5 1208.0 324.4 1209.0 325.2 1210.0 325.7 1211.0 326.0 1212.0 326.1 1213.0 326.0 1214.0 325.6 1215.0 325.1 1216.0 324.4 1217.0 323.6 1218.0 322.5 1219.0 321.3 1220.0 320.0 1221.0 318.6 1222.0 317.0 1223.0 315.4 1224.0 313.7 1225.0 312.0 1226.0 310.2 1227.0 308.5 1228.0 306.7 1229.0 305.0 1230.0 303.4 1231.0 301.8 1232.0 300.3 1233.0 299.0 1234.0 297.7 1235.0 296.6 1236.0 295.6 1237.0 294.8 1238.0 294.1 1239.0 293.6 1240.0 293.3 1241.0 293.2 1242.0 293.2 1243.0 293.4 1244.0 293.7 1245.0 294.2 1246.0 294.9 1247.0 295.7 1248.0 296.6 1249.0 297.6 1250.0 298.7 1251.0 299.9 1252.0 301.1 1253.0 302.4 1254.0 303.7 1255.0 305.1 1256.0 306.4 1257.0 307.7 1258.0 309.0 1259.0 310.2 1260.0 311.4 1261.0 312.5 1262.0 313.6 1263.0 314.5 1264.0 315.3 1265.0 316.0 1266.0 316.6 1267.0 317.1 1268.0 317.5 1269.0 317.8 1270.0 317.9 1271.0 317.9 1272.0 317.8 1273.0 317.6 1274.0 317.3 1275.0 316.9 1276.0 316.4 1277.0 315.8 1278.0 315.1 1279.0 314.3 1280.0 313.5 1281.0 312.6 1282.0 311.7 1283.0 310.8 1284.0 309.8 1285.0 308.9 1286.0 307.9 1287.0 306.9 1288.0 306.0 1289.0 305.1 1290.0 304.3 1291.0 303.5 1292.0 302.7 1293.0 302.1 1294.0 301.5 1295.0 301.0 1296.0 300.5 1297.0 300.2 1298.0 300.0 1299.0 299.8 1300.0 299.8 1301.0 299.8 1302.0 299.9 1303.0 300.1 1304.0 300.4 1305.0 300.8 1306.0 301.3 1307.0 301.8 1308.0 302.3 1309.0 302.9 1310.0 303.6 1311.0 304.3 1312.0 305.0 1313.0 305.7 1314.0 306.4 1315.0 307.1 1316.0 307.8 1317.0 308.5 1318.0 309.1 1319.0 309.8 1320.0 310.3 1321.0 310.9 1322.0 311.4 1323.0 311.8 1324.0 312.2 1325.0 312.5 1326.0 312.7 1327.0 312.9 1328.0 313.0 1329.0 313.1 1330.0 313.1 1331.0 313.1 1332.0 312.9 1333.0 312.8 1334.0 312.5 1335.0 312.3 1336.0 311.9 1337.0 311.6 1338.0 311.2 1339.0 310.7 1340.0 310.2 1341.0 309.7 1342.0 309.2 1343.0 308.7 1344.0 308.2 1345.0 307.7 1346.0 307.1 1347.0 306.6 1348.0 306.1 1349.0 305.7 1350.0 305.2 1351.0 304.8 1352.0 304.4 1353.0 304.1 1354.0 303.8 1355.0 303.6 1356.0 303.4 1357.0 303.3 1358.0 303.2 1359.0 303.2 1360.0 303.2 1361.0 303.3 1362.0 303.4 1363.0 303.6 1364.0 303.8 1365.0 304.1 1366.0 304.4 1367.0 304.7 1368.0 305.0 1369.0 305.4 1370.0 305.8 1371.0 306.2 1372.0 306.6 1373.0 307.0 1374.0 307.4 1375.0 307.8 1376.0 308.2 1377.0 308.5 1378.0 308.9 1379.0 309.2 1380.0 309.5 1381.0 309.8 1382.0 310.0 1383.0 310.2 1384.0 310.4 1385.0 310.5 1386.0 310.6 1387.0 310.7 1388.0 310.7 1389.0 310.7 1390.0 310.7 1391.0 310.6 1392.0 310.5 1393.0 310.3 1394.0 310.2 1395.0 310.0 1396.0 309.8 1397.0 309.5 1398.0 309.3 1399.0 309.0 1400.0 308.7 1401.0 308.5 1402.0 308.2 1403.0 307.9 1404.0 307.6 1405.0 307.3 1406.0 307.0 1407.0 306.7 1408.0 306.5 1409.0 306.2 1410.0 306.0 1411.0 305.8 1412.0 305.6 1413.0 305.5 1414.0 305.4 1415.0 305.3 1416.0 305.2 1417.0 305.2 1418.0 305.2 1419.0 305.2 1420.0 305.3 1421.0 305.3 1422.0 305.5 1423.0 305.6 1424.0 305.7 1425.0 305.9 1426.0 306.1 1427.0 306.3 1428.0 306.5 1429.0 306.7 1430.0 306.9 1431.0 307.1 1432.0 307.3 1433.0 307.5 1434.0 307.7 1435.0 307.9 1436.0 308.1 1437.0 308.3 1438.0 308.4 1439.0 308.5 1440.0 308.7 1441.0 308.8 1442.0 308.9 1443.0 308.9 1444.0 309.0 1445.0 309.1 1446.0 309.1 1447.0 309.1 1448.0 309.1 1449.0 309.1 1450.0 309.1 1451.0 309.0 1452.0 308.9 1453.0 308.9 1454.0 308.8 1455.0 308.7 1456.0 308.6 1457.0 308.4 1458.0 308.3 1459.0 308.2 1460.0 308.0 1461.0 307.9 1462.0 307.7 1463.0 307.6 1464.0 307.4 1465.0 307.2 1466.0 307.1 1467.0 307.0 1468.0 306.8 1469.0 306.7 1470.0 306.6 1471.0 306.5 1472.0 306.4 1473.0 306.3 1474.0 306.3 1475.0 306.2 1476.0 306.2 1477.0 306.2 1478.0 306.2 1479.0 306.2 1480.0 306.3 1481.0 306.3 1482.0 306.4 1483.0 306.5 1484.0 306.6 1485.0 306.7 1486.0 306.8 1487.0 306.9 1488.0 307.0 1489.0 307.2 1490.0 307.3 1491.0 307.4 1492.0 307.6 1493.0 307.7 1494.0 307.9 1495.0 308.0 1495.5 308.1" stroke="#33d433"/>
<path d="M866.0 294.5L867.0 294.5 868.0 294.5 869.0 294.5 870.0 294.5 871.0 294.5 872.0 294.5 873.0 294.5 874.0 294.5 875.0 294.5 876.0 294.5 877.0 294.5 878.0 294.5 879.0 294.5 880.0 294.5 881.0 294.5 882.0 294.5 883.0 294.5 884.0 294.5 885.0 294.5 886.0 294.5 887.0 294.5 888.0 294.5 889.0 294.5 890.0 294.5 891.0 294.5 892.0 294.5 893.0 294.5 894.0 294.5 895.0 294.5 896.0 294.5 897.0 294.5 898.0 294.5 899.0 294.5 900.0 294.5 901.0 294.5 902.0 294.5 903.0 294.5 904.0 294.5 905.0 294.5 906.0 294.5 907.0 294.5 908.0 294.5 909.0 294.5 910.0 294.5 911.0 294.5 912.0 294.5 913.0 294.5 914.0 294.5 915.0 294.5 916.0 294.5 917.0 294.5 918.0 294.5 919.0 294.5 920.0 294.5 921.0 294.5 922.0 294.5 923.0 294.5 924.0 294.5 925.0 294.5 926.0 294.5 927.0 294.5 928.0 294.5 929.0 294.5 930.0 294.5 931.0 294.5 932.0 294.5 933.0 294.5 934.0 294.5 935.0 294.5 936.0 294.5 937.0 294.5 938.0 294.5 939.0 294.5 940.0 294.5 941.0 294.5 942.0 294.5 943.0 294.5 944.0 294.5 945.0 294.5 946.0 294.5 947.0 294.5 948.0 294.5 949.0 294.5 950.0 294.5 951.0 294.5 952.0 294.5 953.0 294.5 954.0 294.5 955.0 294.5 956.0 294.5 957.0 294.5 958.0 294.5 959.0 294.5 960.0 294.5 961.0 294.5 962.0 294.5 963.0 294.5 964.0 294.5 965.0 294.5 966.0 294.5 967.0 294.5 968.0 294.5 969.0 294.5 970.0 294.5 971.0 294.5 972.0 294.5 973.0 294.5 974.0 294.5 975.0 294.5 976.0 294.5 977.0 294.5 978.0 294.5 979.0 294.5 980.0 294.5 981.0 294.5 982.0 294.5 983.0 294.5 984.0 294.5 985.0 294.5 986.0 294.5 987.0 294.5 988.0 294.5 989.0 294.5 990.0 294.5 991.0 294.5 992.0 294.5 993.0 294.5 994.0 294.5 995.0 294.5 996.0 294.5 997.0 294.5 998.0 294.5 999.0 294.5 1000.0 294.5 1001.0 294.5 1002.0 294.5 1003.0 294.5 1004.0 294.5 1005.0 294.5 1006.0 294.5 1007.0 294.5 1008.0 294.5 1009.0 294.5 1010.0 294.5 1011.0 294.5 1012.0 294.5 1013.0 294.5 1014.0 294.5 1015.0 294.5 1016.0 294.5 1017.0 294.5 1018.0 294.5 1019.0 294.5 1020.0 294.5 1021.0 294.5 1022.0 294.5 1023.0 294.5 1024.0 294.5 1025.0 294.5 1026.0 294.5 1027.0 294.5 1028.0 294.5 1029.0 294.5 1030.0 294.5 1031.0 294.5 1032.0 294.5 1033.0 294.5 1034.0 294.5 1035.0 294.5 1036.0 294.5 1037.0 294.5 1038.0 294.5 1039.0 294.5 1040.0 294.5 1041.0 294.5 1042.0 294.5 1043.0 294.5 1044.0 294.5 1045.0 294.5 1046.0 294.5 1047.0 294.5 1048.0 294.4 1049.0 294.4 1050.0 294.4 1051.0 294.3 1052.0 294.3 1053.0 294.2 1054.0 294.1 1055.0 294.1 1056.0 294.0 1057.0 293.9 1058.0 293.8 1059.0 293.7 1060.0 293.5 1061.0 293.4 1062.0 293.2 1063.0 293.1 1064.0 292.9 1065.0 292.7 1066.0 292.5 1067.0 292.4 1068.0 292.2 1069.0 291.9 1070.0 291.7 1071.0 291.5 1072.0 291.3 1073.0 291.0 1074.0 290.8 1075.0 290.5 1076.0 290.3 1077.0 290.0 1078.0 289.7 1079.0 289.5 1080.0 289.2 1081.0 288.9 1082.0 288.6 1083.0 288.4 1084.0 288.1 1085.0 287.8 1086.0 287.5 1087.0 287.2 1088.0 287.0 1089.0 286.7 1090.0 286.4 1091.0 286.2 1092.0 285.9 1093.0 285.6 1094.0 285.4 1095.0 285.1 1096.0 284.9 1097.0 284.7 1098.0 284.4 1099.0 284.2 1100.0 284.0 1101.0 283.8 1102.0 283.6 1103.0 283.5 1104.0 283.3 1105.0 283.1 1106.0 283.0 1107.0 282.9 1108.0 282.8 1109.0 282.7 1110.0 282.6 1111.0 282.6 1112.0 282.6 1113.0 282.6 1114.0 282.7 1115.0 282.8 1116.0 282.9 1117.0 283.0 1118.0 283.1 1119.0 283.2 1120.0 283.3 1121.0 283.3 1122.0 283.4 1123.0 283.4 1124.0 283.4 1125.0 283.3 1126.0 283.2 1127.0 283.0 1128.0 282.8 1129.0 282.5 1130.0 282.2 1131.0 281.8 1132.0 281.3 1133.0 280.7 1134.0 280.1 1135.0 279.4 1136.0 278.6 1137.0 277.6 1138.0 276.6 1139.0 275.4 1140.0 274.0 1141.0 272.5 1142.0 270.8 1143.0 268.9 1144.0 266.9 1145.0 264.7 1146.0 262.4 1147.0 259.9 1148.0 257.4 1149.0 254.7 1150.0 252.0 1151.0 249.3 1152.0 246.4 1153.0 243.5 1154.0 240.4 1155.0 237.3 1156.0 234.1 1157.0 230.8 1158.0 227.4 1159.0 223.9 1160.0 220.4 1161.0 216.7 1162.0 213.1 1163.0 209.4 1164.0 205.8 1165.0 202.2 1166.0 198.7 1167.0 195.2 1168.0 191.9 1169.0 188.7 1170.0 185.6 1171.0 182.7 1172.0 180.0 1173.0 177.5 1174.0 175.1 1175.0 173.0 1176.0 171.1 1177.0 169.5 1178.0 168.1 1179.0 166.9 1180.0 166.1 1181.0 165.4 1182.0 165.0 1183.0 164.9 1184.0 164.9 1185.0 165.3 1186.0 165.8 1187.0 166.5 1188.0 167.4 1189.0 168.4 1190.0 169.6 1191.0 170.9 1192.0 172.4 1193.0 173.9 1194.0 175.4 1195.0 177.1 1196.0 178.7 1197.0 180.4 1198.0 182.1 1199.0 183.7 1200.0 185.3 1201.0 186.8 1202.0 188.3 1203.0 189.7 1204.0 191.0 1205.0 192.1 1206.0 193.1 1207.0 194.0 1208.0 194.8 1209.0 195.4 1210.0 195.9 1211.0 196.2 1212.0 196.3 1213.0 196.3 1214.0 196.2 1215.0 195.9 1216.0 195.5 1217.0 194.9 1218.0 194.2 1219.0 193.4 1220.0 192.5 1221.0 191.5 1222.0 190.4 1223.0 189.3 1224.0 188.1 1225.0 186.9 1226.0 185.6 1227.0 184.3 1228.0 183.1 1229.0 181.8 1230.0 180.6 1231.0 179.4 1232.0 178.3 1233.0 177.2 1234.0 176.3 1235.0 175.4 1236.0 174.6 1237.0 174.0 1238.0 173.4 1239.0 173.0 1240.0 172.7 1241.0 172.5 1242.0 172.5 1243.0 172.5 1244.0 172.7 1245.0 173.1 1246.0 173.5 1247.0 174.0 1248.0 174.6 1249.0 175.4 1250.0 176.1 1251.0 177.0 1252.0 177.9 1253.0 178.8 1254.0 179.8 1255.0 180.7 1256.0 181.7 1257.0 182.7 1258.0 183.6 1259.0 184.5 1260.0 185.4 1261.0 186.2 1262.0 187.0 1263.0 187.7 1264.0 188.3 1265.0 188.8 1266.0 189.3 1267.0 189.7 1268.0 190.0 1269.0 190.2 1270.0 190.4 1271.0 190.4 1272.0 190.4 1273.0 190.3 1274.0 190.1 1275.0 189.9 1276.0 189.5 1277.0 189.1 1278.0 188.7 1279.0 188.2 1280.0 187.6 1281.0 187.0 1282.0 186.4 1283.0 185.7 1284.0 185.0 1285.0 184.3 1286.0 183.6 1287.0 182.9 1288.0 182.2 1289.0 181.6 1290.0 180.9 1291.0 180.3 1292.0 179.7 1293.0 179.2 1294.0 178.8 1295.0 178.3 1296.0 178.0 1297.0 177.7 1298.0 177.5 1299.0 177.4 1300.0 177.3 1301.0 177.3 1302.0 177.3 1303.0 177.5 1304.0 177.7 1305.0 177.9 1306.0 178.2 1307.0 178.6 1308.0 179.0 1309.0 179.5 1310.0 179.9 1311.0 180.4 1312.0 180.9 1313.0 181.4 1314.0 182.0 1315.0 182.5 1316.0 183.0 1317.0 183.4 1318.0 183.9 1319.0 184.3 1320.0 184.7 1321.0 185.1 1322.0 185.4 1323.0 185.7 1324.0 186.0 1325.0 186.2 1326.0 186.4 1327.0 186.5 1328.0 186.6 1329.0 186.7 1330.0 186.7 1331.0 186.7 1332.0 186.6 1333.0 186.6 1334.0 186.4 1335.0 186.3 1336.0 186.1 1337.0 185.8 1338.0 185.6 1339.0 185.3 1340.0 185.0 1341.0 184.7 1342.0 184.3 1343.0 184.0 1344.0 183.6 1345.0 183.3 1346.0 182.9 1347.0 182.5 1348.0 182.2 1349.0 181.9 1350.0 181.5 1351.0 181.2 1352.0 181.0 1353.0 180.7 1354.0 180.5 1355.0 180.3 1356.0 180.1 1357.0 180.0 1358.0 179.9 1359.0 179.9 1360.0 179.9 1361.0 179.9 1362.0 180.0 1363.0 180.1 1364.0 180.3 1365.0 180.4 1366.0 180.6 1367.0 180.9 1368.0 181.1 1369.0 181.4 1370.0 181.7 1371.0 181.9 1372.0 182.2 1373.0 182.5 1374.0 182.8 1375.0 183.0 1376.0 183.3 1377.0 183.5 1378.0 183.8 1379.0 184.0 1380.0 184.2 1381.0 184.3 1382.0 184.5 1383.0 184.6 1384.0 184.7 1385.0 184.8 1386.0 184.9 1387.0 185.0 1388.0 185.0 1389.0 185.0 1390.0 185.0 1391.0 185.0 1392.0 184.9 1393.0 184.9 1394.0 184.8 1395.0 184.7 1396.0 184.6 1397.0 184.4 1398.0 184.3 1399.0 184.1 1400.0 183.9 1401.0 183.7 1402.0 183.5 1403.0 183.3 1404.0 183.1 1405.0 182.9 1406.0 182.7 1407.0 182.5 1408.0 182.3 1409.0 182.2 1410.0 182.0 1411.0 181.8 1412.0 181.7 1413.0 181.6 1414.0 181.4 1415.0 181.4 1416.0 181.3 1417.0 181.2 1418.0 181.2 1419.0 181.2 1420.0 181.2 1421.0 181.3 1422.0 181.3 1423.0 181.4 1424.0 181.6 1425.0 181.7 1426.0 181.8 1427.0 182.0 1428.0 182.2 1429.0 182.3 1430.0 182.5 1431.0 182.6 1432.0 182.8 1433.0 182.9 1434.0 183.1 1435.0 183.2 1436.0 183.3 1437.0 183.4 1438.0 183.5 1439.0 183.6 1440.0 183.7 1441.0 183.7 1442.0 183.8 1443.0 183.8 1444.0 183.8 1445.0 183.9 1446.0 183.9 1447.0 183.9 1448.0 183.9 1449.0 183.9 1450.0 183.9 1451.0 183.9 1452.0 183.9 1453.0 183.8 1454.0 183.8 1455.0 183.7 1456.0 183.7 1457.0 183.6 1458.0 183.5 1459.0 183.5 1460.0 183.4 1461.0 183.3 1462.0 183.2 1463.0 183.1 1464.0 183.0 1465.0 182.9 1466.0 182.7 1467.0 182.6 1468.0 182.5 1469.0 182.4 1470.0 182.3 1471.0 182.2 1472.0 182.2 1473.0 182.1 1474.0 182.0 1475.0 182.0 1476.0 181.9 1477.0 181.9 1478.0 181.9 1479.0 181.9 1480.0 181.9 1481.0 182.0 1482.0 182.0 1483.0 182.1 1484.0 182.1 1485.0 182.2 1486.0 182.3 1487.0 182.4 1488.0 182.5 1489.0 182.6 1490.0 182.7 1491.0 182.9 1492.0 183.0 1493.0 183.1 1494.0 183.2 1495.0 183.3 1495.5 183.4" stroke="#80330f"/>
<path d="M866.0 170.4L867.0 170.4 868.0 170.4 869.0 170.4 870.0 170.4 871.0 170.4 872.0 170.4 873.0 170.4 874.0 170.4 875.0 170.4 876.0 170.4 877.0 170.4 878.0 170.4 879.0 170.4 880.0 170.4 881.0 170.4 882.0 170.4 883.0 170.4 884.0 170.4 885.0 170.4 886.0 170.4 887.0 170.4 888.0 170.4 889.0 170.4 890.0 170.4 891.0 170.4 892.0 170.4 893.0 170.4 894.0 170.4 895.0 170.4 896.0 170.4 897.0 170.4 898.0 170.4 899.0 170.4 900.0 170.4 901.0 170.4 902.0 170.4 903.0 170.4 904.0 170.4 905.0 170.4 906.0 170.4 907.0 170.4 908.0 170.4 909.0 170.4 910.0 170.4 911.0 170.4 912.0 170.4 913.0 170.4 914.0 170.4 915.0 170.4 916.0 170.4 917.0 170.4 918.0 170.4 919.0 170.4 920.0 170.4 921.0 170.4 922.0 170.4 923.0 170.4 924.0 170.4 925.0 170.4 926.0 170.4 927.0 170.4 928.0 170.4 929.0 170.4 930.0 170.4 931.0 170.4 932.0 170.4 933.0 170.4 934.0 170.4 935.0 170.4 936.0 170.4 937.0 170.4 938.0 170.4 939.0 170.4 940.0 170.4 941.0 170.5 942.0 170.5 943.0 170.6 944.0 170.6 945.0 170.7 946.0 170.8 947.0 170.9 948.0 171.0 949.0 171.1 950.0 171.3 951.0 171.4 952.0 171.6 953.0 171.8 954.0 172.0 955.0 172.2 956.0 172.5 957.0 172.7 958.0 173.0 959.0 173.3 960.0 173.5 961.0 173.8 962.0 174.1 963.0 174.3 964.0 174.6 965.0 174.9 966.0 175.2 967.0 175.4 968.0 175.7 969.0 175.9 970.0 176.2 971.0 176.4 972.0 176.6 973.0 176.8 974.0 177.0 975.0 177.2 976.0 177.4 977.0 177.6 978.0 177.7 979.0 177.9 980.0 178.0 981.0 178.2 982.0 178.3 983.0 178.4 984.0 178.5 985.0 178.5 986.0 178.6 987.0 178.6 988.0 178.6 989.0 178.6 990.0 178.5 991.0 178.4 992.0 178.3 993.0 178.1 994.0 177.9 995.0 177.6 996.0 177.3 997.0 176.9 998.0 176.5 999.0 176.0 1000.0 175.4 1001.0 174.8 1002.0 174.1 1003.0 173.4 1004.0 172.7 1005.0 171.9 1006.0 171.0 1007.0 170.2 1008.0 169.3 1009.0 168.3 1010.0 167.4 1011.0 166.4 1012.0 165.4 1013.0 164.4 1014.0 163.4 1015.0 162.4 1016.0 161.4 1017.0 160.3 1018.0 159.2 1019.0 158.1 1020.0 157.0 1021.0 155.9 1022.0 154.7 1023.0 153.6 1024.0 152.4 1025.0 151.3 1026.0 150.1 1027.0 148.9 1028.0 147.8 1029.0 146.6 1030.0 145.4 1031.0 144.3 1032.0 143.1 1033.0 142.0 1034.0 140.9 1035.0 139.8 1036.0 138.8 1037.0 137.8 1038.0 136.8 1039.0 135.9 1040.0 135.1 1041.0 134.3 1042.0 133.6 1043.0 133.0 1044.0 132.5 1045.0 132.0 1046.0 131.6 1047.0 131.3 1048.0 131.1 1049.0 130.9 1050.0 130.8 1051.0 130.7 1052.0 130.7 1053.0 130.8 1054.0 130.9 1055.0 131.1 1056.0 131.3 1057.0 131.5 1058.0 131.8 1059.0 132.1 1060.0 132.5 1061.0 132.9 1062.0 133.3 1063.0 133.7 1064.0 134.1 1065.0 134.5 1066.0 134.8 1067.0 135.2 1068.0 135.5 1069.0 135.7 1070.0 136.0 1071.0 136.1 1072.0 136.3 1073.0 136.4 1074.0 136.4 1075.0 136.4 1076.0 136.3 1077.0 136.2 1078.0 136.0 1079.0 135.8 1080.0 135.6 1081.0 135.3 1082.0 135.0 1083.0 134.7 1084.0 134.4 1085.0 134.1 1086.0 133.7 1087.0 133.3 1088.0 132.9 1089.0 132.5 1090.0 132.1 1091.0 131.7 1092.0 131.3 1093.0 130.8 1094.0 130.4 1095.0 130.0 1096.0 129.5 1097.0 129.1 1098.0 128.7 1099.0 128.3 1100.0 127.9 1101.0 127.6 1102.0 127.3 1103.0 127.1 1104.0 126.9 1105.0 126.8 1106.0 126.8 1107.0 126.8 1108.0 126.9 1109.0 127.1 1110.0 127.3 1111.0 127.6 1112.0 128.0 1113.0 128.4 1114.0 128.9 1115.0 129.4 1116.0 129.9 1117.0 130.5 1118.0 131.2 1119.0 131.8 1120.0 132.5 1121.0 133.3 1122.0 134.0 1123.0 134.8 1124.0 135.5 1125.0 136.3 1126.0 137.0 1127.0 137.7 1128.0 138.4 1129.0 139.1 1130.0 139.7 1131.0 140.2 1132.0 140.6 1133.0 141.0 1134.0 141.2 1135.0 141.3 1136.0 141.3 1137.0 141.1 1138.0 140.7 1139.0 140.3 1140.0 139.7 1141.0 138.9 1142.0 138.0 1143.0 137.0 1144.0 135.8 1145.0 134.5 1146.0 133.0 1147.0 131.3 1148.0 129.4 1149.0 127.2 1150.0 124.8 1151.0 122.2 1152.0 119.3 1153.0 116.3 1154.0 113.1 1155.0 109.8 1156.0 106.4 1157.0 103.0 1158.0 99.6 1159.0 96.2 1160.0 92.8 1161.0 89.4 1162.0 86.1 1163.0 82.8 1164.0 79.6 1165.0 76.4 1166.0 73.3 1167.0 70.1 1168.0 66.9 1169.0 63.8 1170.0 60.5 1171.0 57.3 1172.0 54.2 1173.0 51.2 1174.0 48.5 1175.0 46.1 1176.0 44.0 1177.0 42.4 1178.0 41.2 1179.0 40.3 1180.0 39.6 1181.0 39.2 1182.0 39.1 1183.0 39.0 1184.0 39.0 1185.0 39.4 1186.0 39.9 1187.0 40.7 1188.0 41.6 1189.0 42.8 1190.0 44.0 1191.0 45.4 1192.0 47.0 1193.0 48.6 1194.0 50.3 1195.0 52.0 1196.0 53.8 1197.0 55.6 1198.0 57.4 1199.0 59.2 1200.0 60.9 1201.0 62.6 1202.0 64.2 1203.0 65.7 1204.0 67.0 1205.0 68.3 1206.0 69.4 1207.0 70.4 1208.0 71.2 1209.0 71.9 1210.0 72.4 1211.0 72.7 1212.0 72.8 1213.0 72.8 1214.0 72.7 1215.0 72.3 1216.0 71.9 1217.0 71.3 1218.0 70.5 1219.0 69.6 1220.0 68.7 1221.0 67.6 1222.0 66.4 1223.0 65.2 1224.0 63.9 1225.0 62.6 1226.0 61.2 1227.0 59.9 1228.0 58.5 1229.0 57.2 1230.0 55.9 1231.0 54.6 1232.0 53.4 1233.0 52.3 1234.0 51.3 1235.0 50.4 1236.0 49.6 1237.0 48.9 1238.0 48.3 1239.0 47.9 1240.0 47.6 1241.0 47.4 1242.0 47.4 1243.0 47.4 1244.0 47.7 1245.0 48.0 1246.0 48.5 1247.0 49.0 1248.0 49.7 1249.0 50.5 1250.0 51.3 1251.0 52.2 1252.0 53.1 1253.0 54.1 1254.0 55.1 1255.0 56.1 1256.0 57.1 1257.0 58.1 1258.0 59.1 1259.0 60.0 1260.0 60.9 1261.0 61.8 1262.0 62.5 1263.0 63.2 1264.0 63.9 1265.0 64.5 1266.0 64.9 1267.0 65.3 1268.0 65.7 1269.0 65.9 1270.0 66.1 1271.0 66.1 1272.0 66.1 1273.0 66.0 1274.0 65.8 1275.0 65.6 1276.0 65.2 1277.0 64.8 1278.0 64.4 1279.0 63.9 1280.0 63.3 1281.0 62.7 1282.0 62.0 1283.0 61.3 1284.0 60.6 1285.0 59.8 1286.0 59.1 1287.0 58.4 1288.0 57.6 1289.0 56.9 1290.0 56.2 1291.0 55.6 1292.0 54.9 1293.0 54.4 1294.0 53.9 1295.0 53.4 1296.0 53.0 1297.0 52.7 1298.0 52.5 1299.0 52.3 1300.0 52.2 1301.0 52.2 1302.0 52.2 1303.0 52.4 1304.0 52.6 1305.0 52.9 1306.0 53.2 1307.0 53.6 1308.0 54.0 1309.0 54.5 1310.0 55.0 1311.0 55.6 1312.0 56.1 1313.0 56.7 1314.0 57.3 1315.0 57.8 1316.0 58.4 1317.0 58.9 1318.0 59.4 1319.0 59.9 1320.0 60.4 1321.0 60.8 1322.0 61.2 1323.0 61.5 1324.0 61.8 1325.0 62.1 1326.0 62.3 1327.0 62.5 1328.0 62.6 1329.0 62.7 1330.0 62.7 1331.0 62.7 1332.0 62.6 1333.0 62.6 1334.0 62.4 1335.0 62.2 1336.0 62.0 1337.0 61.8 1338.0 61.5 1339.0 61.1 1340.0 60.8 1341.0 60.4 1342.0 60.0 1343.0 59.6 1344.0 59.2 1345.0 58.8 1346.0 58.3 1347.0 57.9 1348.0 57.5 1349.0 57.1 1350.0 56.7 1351.0 56.3 1352.0 56.0 1353.0 55.7 1354.0 55.4 1355.0 55.2 1356.0 55.0 1357.0 54.9 1358.0 54.8 1359.0 54.7 1360.0 54.7 1361.0 54.7 1362.0 54.8 1363.0 54.9 1364.0 55.1 1365.0 55.3 1366.0 55.6 1367.0 55.8 1368.0 56.1 1369.0 56.5 1370.0 56.8 1371.0 57.1 1372.0 57.5 1373.0 57.8 1374.0 58.2 1375.0 58.5 1376.0 58.8 1377.0 59.1 1378.0 59.4 1379.0 59.7 1380.0 59.9 1381.0 60.1 1382.0 60.3 1383.0 60.4 1384.0 60.6 1385.0 60.7 1386.0 60.8 1387.0 60.8 1388.0 60.9 1389.0 60.9 1390.0 60.9 1391.0 60.9 1392.0 60.8 1393.0 60.7 1394.0 60.6 1395.0 60.5 1396.0 60.3 1397.0 60.2 1398.0 60.0 1399.0 59.8 1400.0 59.6 1401.0 59.3 1402.0 59.1 1403.0 58.8 1404.0 58.6 1405.0 58.4 1406.0 58.1 1407.0 57.9 1408.0 57.6 1409.0 57.4 1410.0 57.2 1411.0 57.0 1412.0 56.9 1413.0 56.7 1414.0 56.6 1415.0 56.5 1416.0 56.4 1417.0 56.3 1418.0 56.3 1419.0 56.3 1420.0 56.3 1421.0 56.4 1422.0 56.5 1423.0 56.6 1424.0 56.7 1425.0 56.9 1426.0 57.1 1427.0 57.2 1428.0 57.4 1429.0 57.6 1430.0 57.8 1431.0 58.0 1432.0 58.2 1433.0 58.4 1434.0 58.5 1435.0 58.7 1436.0 58.8 1437.0 59.0 1438.0 59.1 1439.0 59.2 1440.0 59.3 1441.0 59.3 1442.0 59.4 1443.0 59.5 1444.0 59.5 1445.0 59.6 1446.0 59.6 1447.0 59.6 1448.0 59.6 1449.0 59.6 1450.0 59.6 1451.0 59.6 1452.0 59.5 1453.0 59.5 1454.0 59.4 1455.0 59.4 1456.0 59.3 1457.0 59.2 1458.0 59.1 1459.0 59.0 1460.0 58.9 1461.0 58.8 1462.0 58.7 1463.0 58.5 1464.0 58.4 1465.0 58.3 1466.0 58.1 1467.0 58.0 1468.0 57.9 1469.0 57.8 1470.0 57.7 1471.0 57.6 1472.0 57.5 1473.0 57.4 1474.0 57.3 1475.0 57.3 1476.0 57.2 1477.0 57.2 1478.0 57.2 1479.0 57.2 1480.0 57.2 1481.0 57.3 1482.0 57.3 1483.0 57.4 1484.0 57.5 1485.0 57.6 1486.0 57.7 1487.0 57.8 1488.0 57.9 1489.0 58.0 1490.0 58.1 1491.0 58.3 1492.0 58.4 1493.0 58.6 1494.0 58.7 1495.0 58.8 1495.5 58.9" stroke="#80330f"/>
</g>
<line x1="1190.8" y1="116.1" x2="1256.0" y2="116.1" stroke="#80330f" stroke-width="2.2"/>
<line x1="1190.8" y1="365.2" x2="1256.0" y2="365.2" stroke="#33d433" stroke-width="2.2"/>
<line x1="1190.8" y1="614.3" x2="1256.0" y2="614.3" stroke="#8c96c6" stroke-width="2.2"/>
<rect x="865" y="0" width="2.05" height="832" fill="#000"/>
<rect x="1494.5" y="0" width="2.5" height="832" fill="#000"/>
<rect x="865" y="0" width="632" height="2.35" fill="#000"/>
<rect x="865" y="829.95" width="632" height="2.0" fill="#000"/>
<path d="M866.0 805.80H878.6M866.0 681.25H878.6M866.0 556.70H878.6M866.0 432.15H878.6M866.0 307.60H878.6M866.0 183.05H878.6M866.0 58.50H878.6M866.0 743.52H872.6M866.0 618.98H872.6M866.0 494.43H872.6M866.0 369.88H872.6M866.0 245.32H872.6M866.0 120.78H872.6M970.70 830.9V818.3M1180.70 830.9V818.3M1390.70 830.9V818.3M886.70 830.9V824.3M928.70 830.9V824.3M1012.70 830.9V824.3M1054.70 830.9V824.3M1096.70 830.9V824.3M1138.70 830.9V824.3M1222.70 830.9V824.3M1264.70 830.9V824.3M1306.70 830.9V824.3M1348.70 830.9V824.3M1432.70 830.9V824.3M1474.70 830.9V824.3" stroke="#000" stroke-width="2.3" fill="none"/>
<circle cx="90.0" cy="483.3" r="11.2" fill="url(#gHg)" /><circle cx="123.4" cy="483.3" r="11.2" fill="url(#gHg)" /><circle cx="157.5" cy="483.3" r="11.2" fill="url(#gHg)" /><circle cx="191.6" cy="483.3" r="11.2" fill="url(#gHg)" /><circle cx="226.3" cy="483.3" r="11.2" fill="url(#gHg)" /><circle cx="258.0" cy="483.3" r="11.2" fill="url(#gHg)" /><circle cx="295.8" cy="483.3" r="11.2" fill="url(#gHg)" /><circle cx="328.2" cy="483.3" r="11.2" fill="url(#gHg)" /><circle cx="357.2" cy="483.3" r="11.2" fill="url(#gHg)" /><circle cx="392.7" cy="483.3" r="11.2" fill="url(#gHg)" /><circle cx="428.6" cy="483.3" r="11.2" fill="url(#gHg)" /><circle cx="460.8" cy="483.3" r="11.2" fill="url(#gHg)" /><circle cx="496.4" cy="483.3" r="11.2" fill="url(#gHg)" /><circle cx="534.1" cy="483.3" r="11.2" fill="url(#gHg)" /><circle cx="566.4" cy="483.3" r="11.2" fill="url(#gHg)" /><circle cx="595.1" cy="483.3" r="11.2" fill="url(#gHg)" /><circle cx="630.7" cy="483.3" r="11.2" fill="url(#gHg)" /><circle cx="100.7" cy="509.5" r="11.2" fill="url(#gHg)" /><circle cx="134.4" cy="509.5" r="11.2" fill="url(#gHg)" /><circle cx="170.2" cy="509.5" r="11.2" fill="url(#gHg)" /><circle cx="206.3" cy="509.5" r="11.2" fill="url(#gHg)" /><circle cx="237.3" cy="509.5" r="11.2" fill="url(#gHg)" /><circle cx="271.0" cy="509.5" r="11.2" fill="url(#gHg)" /><circle cx="306.8" cy="509.5" r="11.2" fill="url(#gHg)" /><circle cx="338.9" cy="509.5" r="11.2" fill="url(#gHg)" /><circle cx="372.9" cy="509.5" r="11.2" fill="url(#gHg)" /><circle cx="407.9" cy="509.5" r="11.2" fill="url(#gHg)" /><circle cx="443.0" cy="509.5" r="11.2" fill="url(#gHg)" /><circle cx="476.1" cy="509.5" r="11.2" fill="url(#gHg)" /><circle cx="509.1" cy="509.5" r="11.2" fill="url(#gHg)" /><circle cx="544.7" cy="509.5" r="11.2" fill="url(#gHg)" /><circle cx="577.2" cy="509.5" r="11.2" fill="url(#gHg)" /><circle cx="610.7" cy="509.5" r="11.2" fill="url(#gHg)" /><circle cx="645.8" cy="509.5" r="11.2" fill="url(#gHg)" /><circle cx="92.0" cy="536.8" r="11.2" fill="url(#gHg)" /><circle cx="126.1" cy="536.8" r="11.2" fill="url(#gHg)" /><circle cx="161.9" cy="536.8" r="11.2" fill="url(#gHg)" /><circle cx="194.0" cy="536.8" r="11.2" fill="url(#gHg)" /><circle cx="229.0" cy="536.8" r="11.2" fill="url(#gHg)" /><circle cx="262.4" cy="536.8" r="11.2" fill="url(#gHg)" /><circle cx="298.1" cy="536.8" r="11.2" fill="url(#gHg)" /><circle cx="336.2" cy="536.8" r="11.2" fill="url(#gHg)" /><circle cx="370.3" cy="536.8" r="11.2" fill="url(#gHg)" /><circle cx="404.1" cy="536.8" r="11.2" fill="url(#gHg)" /><circle cx="439.0" cy="536.8" r="11.2" fill="url(#gHg)" /><circle cx="471.8" cy="536.8" r="11.2" fill="url(#gHg)" /><circle cx="500.8" cy="536.8" r="11.2" fill="url(#gHg)" /><circle cx="536.4" cy="536.8" r="11.2" fill="url(#gHg)" /><circle cx="574.6" cy="536.8" r="11.2" fill="url(#gHg)" /><circle cx="608.1" cy="536.8" r="11.2" fill="url(#gHg)" /><circle cx="641.9" cy="536.8" r="11.2" fill="url(#gHg)" />
<line x1="72.5" y1="439.5" x2="89.5" y2="445.6" stroke="#6e2d06" stroke-width="3.0" /><line x1="89.5" y1="445.6" x2="106.5" y2="451.8" stroke="#4a4b53" stroke-width="3.0" />
<line x1="106.5" y1="451.8" x2="113.3" y2="436.8" stroke="#4a4b53" stroke-width="3.0" /><line x1="113.3" y1="436.8" x2="120.2" y2="421.7" stroke="#6e2d06" stroke-width="3.0" />
<line x1="106.5" y1="451.8" x2="121.6" y2="454.6" stroke="#4a4b53" stroke-width="3.0" /><line x1="121.6" y1="454.6" x2="136.7" y2="457.3" stroke="#e80000" stroke-width="3.0" />
<line x1="136.7" y1="457.3" x2="140.6" y2="452.6" stroke="#e80000" stroke-width="3.0" /><line x1="140.6" y1="452.6" x2="144.6" y2="447.8" stroke="#e8c4c4" stroke-width="3.0" />
<line x1="167.7" y1="439.5" x2="184.8" y2="445.6" stroke="#6e2d06" stroke-width="3.0" /><line x1="184.8" y1="445.6" x2="201.8" y2="451.8" stroke="#4a4b53" stroke-width="3.0" />
<line x1="201.8" y1="451.8" x2="208.6" y2="436.8" stroke="#4a4b53" stroke-width="3.0" /><line x1="208.6" y1="436.8" x2="215.4" y2="421.7" stroke="#6e2d06" stroke-width="3.0" />
<line x1="201.8" y1="451.8" x2="216.8" y2="454.6" stroke="#4a4b53" stroke-width="3.0" /><line x1="216.8" y1="454.6" x2="231.9" y2="457.3" stroke="#e80000" stroke-width="3.0" />
<line x1="231.9" y1="457.3" x2="235.8" y2="452.6" stroke="#e80000" stroke-width="3.0" /><line x1="235.8" y1="452.6" x2="239.7" y2="447.8" stroke="#e8c4c4" stroke-width="3.0" />
<line x1="262.9" y1="439.5" x2="280.0" y2="445.6" stroke="#6e2d06" stroke-width="3.0" /><line x1="280.0" y1="445.6" x2="297.1" y2="451.8" stroke="#4a4b53" stroke-width="3.0" />
<line x1="297.1" y1="451.8" x2="303.9" y2="436.8" stroke="#4a4b53" stroke-width="3.0" /><line x1="303.9" y1="436.8" x2="310.6" y2="421.7" stroke="#6e2d06" stroke-width="3.0" />
<line x1="297.1" y1="451.8" x2="312.1" y2="454.6" stroke="#4a4b53" stroke-width="3.0" /><line x1="312.1" y1="454.6" x2="327.1" y2="457.3" stroke="#e80000" stroke-width="3.0" />
<line x1="327.1" y1="457.3" x2="330.9" y2="452.6" stroke="#e80000" stroke-width="3.0" /><line x1="330.9" y1="452.6" x2="334.8" y2="447.8" stroke="#e8c4c4" stroke-width="3.0" />
<line x1="358.1" y1="439.5" x2="375.2" y2="445.6" stroke="#6e2d06" stroke-width="3.0" /><line x1="375.2" y1="445.6" x2="392.4" y2="451.8" stroke="#4a4b53" stroke-width="3.0" />
<line x1="392.4" y1="451.8" x2="399.1" y2="436.8" stroke="#4a4b53" stroke-width="3.0" /><line x1="399.1" y1="436.8" x2="405.8" y2="421.7" stroke="#6e2d06" stroke-width="3.0" />
<line x1="392.4" y1="451.8" x2="407.4" y2="454.6" stroke="#4a4b53" stroke-width="3.0" /><line x1="407.4" y1="454.6" x2="422.3" y2="457.3" stroke="#e80000" stroke-width="3.0" />
<line x1="422.3" y1="457.3" x2="426.1" y2="452.6" stroke="#e80000" stroke-width="3.0" /><line x1="426.1" y1="452.6" x2="429.9" y2="447.8" stroke="#e8c4c4" stroke-width="3.0" />
<line x1="120.2" y1="421.7" x2="137.2" y2="415.4" stroke="#6e2d06" stroke-width="3.0" /><line x1="137.2" y1="415.4" x2="154.2" y2="409.0" stroke="#4a4b53" stroke-width="3.0" />
<line x1="154.2" y1="409.0" x2="160.9" y2="424.2" stroke="#4a4b53" stroke-width="3.0" /><line x1="160.9" y1="424.2" x2="167.7" y2="439.5" stroke="#6e2d06" stroke-width="3.0" />
<line x1="154.2" y1="409.0" x2="169.6" y2="406.5" stroke="#4a4b53" stroke-width="3.0" /><line x1="169.6" y1="406.5" x2="184.9" y2="404.0" stroke="#e80000" stroke-width="3.0" />
<line x1="184.9" y1="404.0" x2="188.3" y2="408.6" stroke="#e80000" stroke-width="3.0" /><line x1="188.3" y1="408.6" x2="191.7" y2="413.3" stroke="#e8c4c4" stroke-width="3.0" />
<line x1="215.4" y1="421.7" x2="232.3" y2="415.4" stroke="#6e2d06" stroke-width="3.0" /><line x1="232.3" y1="415.4" x2="249.2" y2="409.0" stroke="#4a4b53" stroke-width="3.0" />
<line x1="249.2" y1="409.0" x2="256.0" y2="424.2" stroke="#4a4b53" stroke-width="3.0" /><line x1="256.0" y1="424.2" x2="262.9" y2="439.5" stroke="#6e2d06" stroke-width="3.0" />
<line x1="249.2" y1="409.0" x2="264.7" y2="406.5" stroke="#4a4b53" stroke-width="3.0" /><line x1="264.7" y1="406.5" x2="280.2" y2="404.0" stroke="#e80000" stroke-width="3.0" />
<line x1="280.2" y1="404.0" x2="283.8" y2="408.6" stroke="#e80000" stroke-width="3.0" /><line x1="283.8" y1="408.6" x2="287.3" y2="413.3" stroke="#e8c4c4" stroke-width="3.0" />
<line x1="310.6" y1="421.7" x2="327.4" y2="415.4" stroke="#6e2d06" stroke-width="3.0" /><line x1="327.4" y1="415.4" x2="344.2" y2="409.0" stroke="#4a4b53" stroke-width="3.0" />
<line x1="344.2" y1="409.0" x2="351.1" y2="424.2" stroke="#4a4b53" stroke-width="3.0" /><line x1="351.1" y1="424.2" x2="358.1" y2="439.5" stroke="#6e2d06" stroke-width="3.0" />
<line x1="344.2" y1="409.0" x2="359.9" y2="406.5" stroke="#4a4b53" stroke-width="3.0" /><line x1="359.9" y1="406.5" x2="375.5" y2="404.0" stroke="#e80000" stroke-width="3.0" />
<line x1="375.5" y1="404.0" x2="379.2" y2="408.6" stroke="#e80000" stroke-width="3.0" /><line x1="379.2" y1="408.6" x2="382.9" y2="413.3" stroke="#e8c4c4" stroke-width="3.0" />
<circle cx="191.7" cy="413.3" r="2.9" fill="url(#gH)" />
<circle cx="287.3" cy="413.3" r="2.9" fill="url(#gH)" />
<circle cx="382.9" cy="413.3" r="2.9" fill="url(#gH)" />
<circle cx="144.6" cy="447.8" r="2.9" fill="url(#gH)" />
<circle cx="239.7" cy="447.8" r="2.9" fill="url(#gH)" />
<circle cx="334.8" cy="447.8" r="2.9" fill="url(#gH)" />
<circle cx="429.9" cy="447.8" r="2.9" fill="url(#gH)" />
<circle cx="184.9" cy="404.0" r="4.1" fill="url(#gO)" />
<circle cx="280.2" cy="404.0" r="4.1" fill="url(#gO)" />
<circle cx="375.5" cy="404.0" r="4.1" fill="url(#gO)" />
<circle cx="136.7" cy="457.3" r="4.1" fill="url(#gO)" />
<circle cx="231.9" cy="457.3" r="4.1" fill="url(#gO)" />
<circle cx="327.1" cy="457.3" r="4.1" fill="url(#gO)" />
<circle cx="422.3" cy="457.3" r="4.1" fill="url(#gO)" />
<circle cx="120.2" cy="421.7" r="6.1" fill="url(#gBr)" />
<circle cx="215.4" cy="421.7" r="6.1" fill="url(#gBr)" />
<circle cx="310.6" cy="421.7" r="6.1" fill="url(#gBr)" />
<circle cx="405.8" cy="421.7" r="6.1" fill="url(#gBr)" />
<circle cx="72.5" cy="439.5" r="6.1" fill="url(#gBr)" />
<circle cx="167.7" cy="439.5" r="6.1" fill="url(#gBr)" />
<circle cx="262.9" cy="439.5" r="6.1" fill="url(#gBr)" />
<circle cx="358.1" cy="439.5" r="6.1" fill="url(#gBr)" />
<circle cx="154.2" cy="409.0" r="8.8" fill="url(#gPb)" />
<circle cx="249.2" cy="409.0" r="8.8" fill="url(#gPb)" />
<circle cx="344.2" cy="409.0" r="8.8" fill="url(#gPb)" />
<circle cx="106.5" cy="451.8" r="8.8" fill="url(#gPb)" />
<circle cx="201.8" cy="451.8" r="8.8" fill="url(#gPb)" />
<circle cx="297.1" cy="451.8" r="8.8" fill="url(#gPb)" />
<circle cx="392.4" cy="451.8" r="8.8" fill="url(#gPb)" />
<line x1="467.8" y1="412.0" x2="479.6" y2="429.0" stroke="#6e2d06" stroke-width="3.0" /><line x1="479.6" y1="429.0" x2="491.3" y2="446.0" stroke="#4a4b53" stroke-width="3.0" />
<line x1="458.2" y1="459.0" x2="474.8" y2="452.5" stroke="#6e2d06" stroke-width="3.0" /><line x1="474.8" y1="452.5" x2="491.3" y2="446.0" stroke="#4a4b53" stroke-width="3.0" />
<line x1="491.3" y1="446.0" x2="495.1" y2="438.0" stroke="#4a4b53" stroke-width="3.0" /><line x1="495.1" y1="438.0" x2="498.8" y2="430.0" stroke="#e80000" stroke-width="3.0" />
<line x1="498.8" y1="430.0" x2="514.1" y2="427.1" stroke="#e80000" stroke-width="3.0" /><line x1="514.1" y1="427.1" x2="529.4" y2="424.2" stroke="#4a4b53" stroke-width="3.0" />
<line x1="498.8" y1="430.0" x2="495.1" y2="425.3" stroke="#e80000" stroke-width="3.0" /><line x1="495.1" y1="425.3" x2="491.3" y2="420.6" stroke="#e8c4c4" stroke-width="3.0" />
<line x1="491.3" y1="446.0" x2="506.8" y2="443.4" stroke="#4a4b53" stroke-width="3.0" /><line x1="506.8" y1="443.4" x2="522.3" y2="440.9" stroke="#e80000" stroke-width="3.0" />
<line x1="522.3" y1="440.9" x2="525.8" y2="432.5" stroke="#e80000" stroke-width="3.0" /><line x1="525.8" y1="432.5" x2="529.4" y2="424.2" stroke="#4a4b53" stroke-width="3.0" />
<line x1="522.3" y1="440.9" x2="526.0" y2="445.7" stroke="#e80000" stroke-width="3.0" /><line x1="526.0" y1="445.7" x2="529.8" y2="450.5" stroke="#e8c4c4" stroke-width="3.0" />
<line x1="529.4" y1="424.2" x2="546.3" y2="418.1" stroke="#4a4b53" stroke-width="3.0" /><line x1="546.3" y1="418.1" x2="563.3" y2="412.0" stroke="#6e2d06" stroke-width="3.0" />
<line x1="529.4" y1="424.2" x2="541.1" y2="441.6" stroke="#4a4b53" stroke-width="3.0" /><line x1="541.1" y1="441.6" x2="552.9" y2="459.0" stroke="#6e2d06" stroke-width="3.0" />
<line x1="563.3" y1="412.0" x2="575.2" y2="429.0" stroke="#6e2d06" stroke-width="3.0" /><line x1="575.2" y1="429.0" x2="587.1" y2="446.0" stroke="#4a4b53" stroke-width="3.0" />
<line x1="552.9" y1="459.0" x2="570.0" y2="452.5" stroke="#6e2d06" stroke-width="3.0" /><line x1="570.0" y1="452.5" x2="587.1" y2="446.0" stroke="#4a4b53" stroke-width="3.0" />
<line x1="587.1" y1="446.0" x2="590.3" y2="438.0" stroke="#4a4b53" stroke-width="3.0" /><line x1="590.3" y1="438.0" x2="593.5" y2="430.0" stroke="#e80000" stroke-width="3.0" />
<line x1="593.5" y1="430.0" x2="608.9" y2="427.1" stroke="#e80000" stroke-width="3.0" /><line x1="608.9" y1="427.1" x2="624.3" y2="424.2" stroke="#4a4b53" stroke-width="3.0" />
<line x1="593.5" y1="430.0" x2="590.0" y2="425.3" stroke="#e80000" stroke-width="3.0" /><line x1="590.0" y1="425.3" x2="586.4" y2="420.6" stroke="#e8c4c4" stroke-width="3.0" />
<line x1="587.1" y1="446.0" x2="602.6" y2="443.4" stroke="#4a4b53" stroke-width="3.0" /><line x1="602.6" y1="443.4" x2="618.1" y2="440.9" stroke="#e80000" stroke-width="3.0" />
<line x1="618.1" y1="440.9" x2="621.2" y2="432.5" stroke="#e80000" stroke-width="3.0" /><line x1="621.2" y1="432.5" x2="624.3" y2="424.2" stroke="#4a4b53" stroke-width="3.0" />
<line x1="618.1" y1="440.9" x2="621.5" y2="445.7" stroke="#e80000" stroke-width="3.0" /><line x1="621.5" y1="445.7" x2="624.9" y2="450.5" stroke="#e8c4c4" stroke-width="3.0" />
<line x1="624.3" y1="424.2" x2="641.4" y2="418.1" stroke="#4a4b53" stroke-width="3.0" /><line x1="641.4" y1="418.1" x2="658.5" y2="412.0" stroke="#6e2d06" stroke-width="3.0" />
<line x1="624.3" y1="424.2" x2="636.0" y2="441.6" stroke="#4a4b53" stroke-width="3.0" /><line x1="636.0" y1="441.6" x2="647.8" y2="459.0" stroke="#6e2d06" stroke-width="3.0" />
<circle cx="491.3" cy="420.6" r="2.9" fill="url(#gH)" />
<circle cx="529.8" cy="450.5" r="2.9" fill="url(#gH)" />
<circle cx="586.4" cy="420.6" r="2.9" fill="url(#gH)" />
<circle cx="624.9" cy="450.5" r="2.9" fill="url(#gH)" />
<circle cx="498.8" cy="430.0" r="4.1" fill="url(#gO)" />
<circle cx="522.3" cy="440.9" r="4.1" fill="url(#gO)" />
<circle cx="593.5" cy="430.0" r="4.1" fill="url(#gO)" />
<circle cx="618.1" cy="440.9" r="4.1" fill="url(#gO)" />
<circle cx="467.8" cy="412.0" r="6.1" fill="url(#gBr)" />
<circle cx="563.3" cy="412.0" r="6.1" fill="url(#gBr)" />
<circle cx="658.5" cy="412.0" r="6.1" fill="url(#gBr)" />
<circle cx="458.2" cy="459.0" r="6.1" fill="url(#gBr)" />
<circle cx="552.9" cy="459.0" r="6.1" fill="url(#gBr)" />
<circle cx="647.8" cy="459.0" r="6.1" fill="url(#gBr)" />
<circle cx="491.3" cy="446.0" r="8.8" fill="url(#gPb)" />
<circle cx="587.1" cy="446.0" r="8.8" fill="url(#gPb)" />
<circle cx="529.4" cy="424.2" r="8.8" fill="url(#gPb)" />
<circle cx="624.3" cy="424.2" r="8.8" fill="url(#gPb)" />
<line x1="63.8" y1="409.5" x2="392.6" y2="409.5" stroke="#222" stroke-width="1.0" stroke-dasharray="5.8 1.2"/>
<line x1="60.2" y1="452.5" x2="392.6" y2="452.5" stroke="#111" stroke-width="1.0" stroke-dasharray="5.8 1.2"/>
<line x1="57.2" y1="457.5" x2="440.0" y2="457.5" stroke="#222" stroke-width="1.3" stroke-dasharray="1.3 2.7"/>
<line x1="57.8" y1="483.5" x2="685.0" y2="483.5" stroke="#222" stroke-width="1.3" stroke-dasharray="1.3 2.7"/>
<line x1="491.3" y1="424.5" x2="676.2" y2="424.5" stroke="#222" stroke-width="1.0" stroke-dasharray="5.8 1.2"/>
<line x1="491.3" y1="446.5" x2="676.2" y2="446.5" stroke="#111" stroke-width="1.0" stroke-dasharray="5.8 1.2"/>
<line x1="460.3" y1="459.5" x2="682.6" y2="459.5" stroke="#222" stroke-width="1.3" stroke-dasharray="1.3 2.7"/>
<line x1="68.0" y1="462.6" x2="68.0" y2="478.0" stroke="#333" stroke-width="1.3"/><path d="M68.0 457.6L64.8 465.1L71.2 465.1Z M68.0 483.0L64.8 475.5L71.2 475.5Z" fill="#000"/>
<line x1="670.9" y1="464.4" x2="670.9" y2="478.0" stroke="#333" stroke-width="1.3"/><path d="M670.9 459.4L667.6999999999999 466.9L674.1 466.9Z M670.9 483.0L667.6999999999999 475.5L674.1 475.5Z" fill="#000"/>
<circle cx="95.5" cy="791.0" r="11.8" fill="url(#gHg)" /><circle cx="132.9" cy="791.0" r="11.8" fill="url(#gHg)" /><circle cx="169.6" cy="791.0" r="11.8" fill="url(#gHg)" /><circle cx="205.8" cy="791.0" r="11.8" fill="url(#gHg)" /><circle cx="243.4" cy="791.0" r="11.8" fill="url(#gHg)" /><circle cx="277.8" cy="791.0" r="11.8" fill="url(#gHg)" /><circle cx="318.3" cy="791.0" r="11.8" fill="url(#gHg)" /><circle cx="352.7" cy="791.0" r="11.8" fill="url(#gHg)" /><circle cx="385.1" cy="791.0" r="11.8" fill="url(#gHg)" /><circle cx="422.6" cy="791.0" r="11.8" fill="url(#gHg)" /><circle cx="461.3" cy="791.0" r="11.8" fill="url(#gHg)" /><circle cx="496.2" cy="791.0" r="11.8" fill="url(#gHg)" /><circle cx="534.7" cy="791.0" r="11.8" fill="url(#gHg)" /><circle cx="575.1" cy="791.0" r="11.8" fill="url(#gHg)" /><circle cx="609.7" cy="791.0" r="11.8" fill="url(#gHg)" /><circle cx="641.0" cy="791.0" r="11.8" fill="url(#gHg)" /><circle cx="679.5" cy="791.0" r="11.8" fill="url(#gHg)" /><circle cx="717.9" cy="791.0" r="11.8" fill="url(#gHg)" /><circle cx="107.9" cy="818.7" r="11.8" fill="url(#gHg)" /><circle cx="144.0" cy="818.7" r="11.8" fill="url(#gHg)" /><circle cx="182.8" cy="818.7" r="11.8" fill="url(#gHg)" /><circle cx="221.9" cy="818.7" r="11.8" fill="url(#gHg)" /><circle cx="255.1" cy="818.7" r="11.8" fill="url(#gHg)" /><circle cx="291.0" cy="818.7" r="11.8" fill="url(#gHg)" /><circle cx="329.8" cy="818.7" r="11.8" fill="url(#gHg)" /><circle cx="365.1" cy="818.7" r="11.8" fill="url(#gHg)" /><circle cx="401.5" cy="818.7" r="11.8" fill="url(#gHg)" /><circle cx="438.5" cy="818.7" r="11.8" fill="url(#gHg)" /><circle cx="477.7" cy="818.7" r="11.8" fill="url(#gHg)" /><circle cx="512.6" cy="818.7" r="11.8" fill="url(#gHg)" /><circle cx="548.4" cy="818.7" r="11.8" fill="url(#gHg)" /><circle cx="586.9" cy="818.7" r="11.8" fill="url(#gHg)" /><circle cx="621.7" cy="818.7" r="11.8" fill="url(#gHg)" /><circle cx="658.0" cy="818.7" r="11.8" fill="url(#gHg)" /><circle cx="696.3" cy="818.7" r="11.8" fill="url(#gHg)" /><circle cx="734.8" cy="818.7" r="11.8" fill="url(#gHg)" /><circle cx="99.1" cy="848.0" r="11.8" fill="url(#gHg)" /><circle cx="135.2" cy="848.0" r="11.8" fill="url(#gHg)" /><circle cx="174.0" cy="848.0" r="11.8" fill="url(#gHg)" /><circle cx="208.7" cy="848.0" r="11.8" fill="url(#gHg)" /><circle cx="246.3" cy="848.0" r="11.8" fill="url(#gHg)" /><circle cx="281.6" cy="848.0" r="11.8" fill="url(#gHg)" /><circle cx="321.0" cy="848.0" r="11.8" fill="url(#gHg)" /><circle cx="362.1" cy="848.0" r="11.8" fill="url(#gHg)" /><circle cx="398.3" cy="848.0" r="11.8" fill="url(#gHg)" /><circle cx="434.9" cy="848.0" r="11.8" fill="url(#gHg)" /><circle cx="473.4" cy="848.0" r="11.8" fill="url(#gHg)" /><circle cx="508.2" cy="848.0" r="11.8" fill="url(#gHg)" /><circle cx="539.0" cy="848.0" r="11.8" fill="url(#gHg)" /><circle cx="578.0" cy="848.0" r="11.8" fill="url(#gHg)" /><circle cx="618.9" cy="848.0" r="11.8" fill="url(#gHg)" /><circle cx="655.4" cy="848.0" r="11.8" fill="url(#gHg)" /><circle cx="691.7" cy="848.0" r="11.8" fill="url(#gHg)" /><circle cx="730.2" cy="848.0" r="11.8" fill="url(#gHg)" />
<line x1="90.2" y1="747.9" x2="106.1" y2="753.5" stroke="#2ed82e" stroke-width="3.0" /><line x1="106.1" y1="753.5" x2="122.0" y2="759.1" stroke="#4a4b53" stroke-width="3.0" />
<line x1="122.0" y1="759.1" x2="128.6" y2="744.4" stroke="#4a4b53" stroke-width="3.0" /><line x1="128.6" y1="744.4" x2="135.2" y2="729.7" stroke="#2ed82e" stroke-width="3.0" />
<line x1="122.0" y1="759.1" x2="137.2" y2="762.0" stroke="#4a4b53" stroke-width="3.0" /><line x1="137.2" y1="762.0" x2="152.3" y2="765.0" stroke="#e80000" stroke-width="3.0" />
<line x1="152.3" y1="765.0" x2="156.7" y2="760.5" stroke="#e80000" stroke-width="3.0" /><line x1="156.7" y1="760.5" x2="161.1" y2="756.1" stroke="#e8c4c4" stroke-width="3.0" />
<line x1="181.8" y1="747.9" x2="197.8" y2="753.5" stroke="#2ed82e" stroke-width="3.0" /><line x1="197.8" y1="753.5" x2="213.8" y2="759.1" stroke="#4a4b53" stroke-width="3.0" />
<line x1="213.8" y1="759.1" x2="220.4" y2="744.4" stroke="#4a4b53" stroke-width="3.0" /><line x1="220.4" y1="744.4" x2="227.1" y2="729.7" stroke="#2ed82e" stroke-width="3.0" />
<line x1="213.8" y1="759.1" x2="228.9" y2="762.0" stroke="#4a4b53" stroke-width="3.0" /><line x1="228.9" y1="762.0" x2="243.9" y2="765.0" stroke="#e80000" stroke-width="3.0" />
<line x1="243.9" y1="765.0" x2="248.4" y2="760.5" stroke="#e80000" stroke-width="3.0" /><line x1="248.4" y1="760.5" x2="252.9" y2="756.1" stroke="#e8c4c4" stroke-width="3.0" />
<line x1="273.4" y1="747.9" x2="289.5" y2="753.5" stroke="#2ed82e" stroke-width="3.0" /><line x1="289.5" y1="753.5" x2="305.6" y2="759.1" stroke="#4a4b53" stroke-width="3.0" />
<line x1="305.6" y1="759.1" x2="312.3" y2="744.4" stroke="#4a4b53" stroke-width="3.0" /><line x1="312.3" y1="744.4" x2="319.0" y2="729.7" stroke="#2ed82e" stroke-width="3.0" />
<line x1="305.6" y1="759.1" x2="320.6" y2="762.0" stroke="#4a4b53" stroke-width="3.0" /><line x1="320.6" y1="762.0" x2="335.5" y2="765.0" stroke="#e80000" stroke-width="3.0" />
<line x1="335.5" y1="765.0" x2="340.1" y2="760.5" stroke="#e80000" stroke-width="3.0" /><line x1="340.1" y1="760.5" x2="344.7" y2="756.1" stroke="#e8c4c4" stroke-width="3.0" />
<line x1="365.0" y1="747.9" x2="381.2" y2="753.5" stroke="#2ed82e" stroke-width="3.0" /><line x1="381.2" y1="753.5" x2="397.4" y2="759.1" stroke="#4a4b53" stroke-width="3.0" />
<line x1="397.4" y1="759.1" x2="404.1" y2="744.4" stroke="#4a4b53" stroke-width="3.0" /><line x1="404.1" y1="744.4" x2="410.9" y2="729.7" stroke="#2ed82e" stroke-width="3.0" />
<line x1="397.4" y1="759.1" x2="412.2" y2="762.0" stroke="#4a4b53" stroke-width="3.0" /><line x1="412.2" y1="762.0" x2="427.1" y2="765.0" stroke="#e80000" stroke-width="3.0" />
<line x1="427.1" y1="765.0" x2="431.8" y2="760.5" stroke="#e80000" stroke-width="3.0" /><line x1="431.8" y1="760.5" x2="436.5" y2="756.1" stroke="#e8c4c4" stroke-width="3.0" />
<line x1="135.2" y1="729.7" x2="151.6" y2="724.1" stroke="#2ed82e" stroke-width="3.0" /><line x1="151.6" y1="724.1" x2="168.1" y2="718.5" stroke="#4a4b53" stroke-width="3.0" />
<line x1="168.1" y1="718.5" x2="174.9" y2="733.2" stroke="#4a4b53" stroke-width="3.0" /><line x1="174.9" y1="733.2" x2="181.8" y2="747.9" stroke="#2ed82e" stroke-width="3.0" />
<line x1="168.1" y1="718.5" x2="182.9" y2="715.5" stroke="#4a4b53" stroke-width="3.0" /><line x1="182.9" y1="715.5" x2="197.8" y2="712.6" stroke="#e80000" stroke-width="3.0" />
<line x1="197.8" y1="712.6" x2="202.5" y2="716.8" stroke="#e80000" stroke-width="3.0" /><line x1="202.5" y1="716.8" x2="207.2" y2="720.9" stroke="#e8c4c4" stroke-width="3.0" />
<line x1="227.1" y1="729.7" x2="243.5" y2="724.1" stroke="#2ed82e" stroke-width="3.0" /><line x1="243.5" y1="724.1" x2="259.9" y2="718.5" stroke="#4a4b53" stroke-width="3.0" />
<line x1="259.9" y1="718.5" x2="266.7" y2="733.2" stroke="#4a4b53" stroke-width="3.0" /><line x1="266.7" y1="733.2" x2="273.4" y2="747.9" stroke="#2ed82e" stroke-width="3.0" />
<line x1="259.9" y1="718.5" x2="274.7" y2="715.5" stroke="#4a4b53" stroke-width="3.0" /><line x1="274.7" y1="715.5" x2="289.5" y2="712.6" stroke="#e80000" stroke-width="3.0" />
<line x1="289.5" y1="712.6" x2="294.1" y2="716.8" stroke="#e80000" stroke-width="3.0" /><line x1="294.1" y1="716.8" x2="298.8" y2="720.9" stroke="#e8c4c4" stroke-width="3.0" />
<line x1="319.0" y1="729.7" x2="335.4" y2="724.1" stroke="#2ed82e" stroke-width="3.0" /><line x1="335.4" y1="724.1" x2="351.8" y2="718.5" stroke="#4a4b53" stroke-width="3.0" />
<line x1="351.8" y1="718.5" x2="358.4" y2="733.2" stroke="#4a4b53" stroke-width="3.0" /><line x1="358.4" y1="733.2" x2="365.0" y2="747.9" stroke="#2ed82e" stroke-width="3.0" />
<line x1="351.8" y1="718.5" x2="366.5" y2="715.5" stroke="#4a4b53" stroke-width="3.0" /><line x1="366.5" y1="715.5" x2="381.2" y2="712.6" stroke="#e80000" stroke-width="3.0" />
<line x1="381.2" y1="712.6" x2="385.8" y2="716.8" stroke="#e80000" stroke-width="3.0" /><line x1="385.8" y1="716.8" x2="390.4" y2="720.9" stroke="#e8c4c4" stroke-width="3.0" />
<circle cx="207.2" cy="720.9" r="2.9" fill="url(#gH)" />
<circle cx="298.8" cy="720.9" r="2.9" fill="url(#gH)" />
<circle cx="390.4" cy="720.9" r="2.9" fill="url(#gH)" />
<circle cx="161.1" cy="756.1" r="2.9" fill="url(#gH)" />
<circle cx="252.9" cy="756.1" r="2.9" fill="url(#gH)" />
<circle cx="344.7" cy="756.1" r="2.9" fill="url(#gH)" />
<circle cx="436.5" cy="756.1" r="2.9" fill="url(#gH)" />
<circle cx="197.8" cy="712.6" r="4.1" fill="url(#gO)" />
<circle cx="289.5" cy="712.6" r="4.1" fill="url(#gO)" />
<circle cx="381.2" cy="712.6" r="4.1" fill="url(#gO)" />
<circle cx="152.3" cy="765.0" r="4.1" fill="url(#gO)" />
<circle cx="243.9" cy="765.0" r="4.1" fill="url(#gO)" />
<circle cx="335.5" cy="765.0" r="4.1" fill="url(#gO)" />
<circle cx="427.1" cy="765.0" r="4.1" fill="url(#gO)" />
<circle cx="135.2" cy="729.7" r="5.0" fill="url(#gCl)" />
<circle cx="227.1" cy="729.7" r="5.0" fill="url(#gCl)" />
<circle cx="319.0" cy="729.7" r="5.0" fill="url(#gCl)" />
<circle cx="410.9" cy="729.7" r="5.0" fill="url(#gCl)" />
<circle cx="90.2" cy="747.9" r="5.0" fill="url(#gCl)" />
<circle cx="181.8" cy="747.9" r="5.0" fill="url(#gCl)" />
<circle cx="273.4" cy="747.9" r="5.0" fill="url(#gCl)" />
<circle cx="365.0" cy="747.9" r="5.0" fill="url(#gCl)" />
<circle cx="168.1" cy="718.5" r="8.8" fill="url(#gPb)" />
<circle cx="259.9" cy="718.5" r="8.8" fill="url(#gPb)" />
<circle cx="351.8" cy="718.5" r="8.8" fill="url(#gPb)" />
<circle cx="122.0" cy="759.1" r="8.8" fill="url(#gPb)" />
<circle cx="213.8" cy="759.1" r="8.8" fill="url(#gPb)" />
<circle cx="305.6" cy="759.1" r="8.8" fill="url(#gPb)" />
<circle cx="397.4" cy="759.1" r="8.8" fill="url(#gPb)" />
<line x1="462.7" y1="746.8" x2="476.9" y2="740.2" stroke="#2ed82e" stroke-width="3.0" /><line x1="476.9" y1="740.2" x2="491.1" y2="733.6" stroke="#4a4b53" stroke-width="3.0" />
<line x1="491.1" y1="733.6" x2="507.4" y2="722.8" stroke="#4a4b53" stroke-width="3.0" /><line x1="507.4" y1="722.8" x2="523.6" y2="712.0" stroke="#2ed82e" stroke-width="3.0" />
<line x1="523.6" y1="712.0" x2="537.8" y2="718.6" stroke="#2ed82e" stroke-width="3.0" /><line x1="537.8" y1="718.6" x2="552.0" y2="725.2" stroke="#4a4b53" stroke-width="3.0" />
<line x1="552.0" y1="725.2" x2="568.4" y2="736.0" stroke="#4a4b53" stroke-width="3.0" /><line x1="568.4" y1="736.0" x2="584.7" y2="746.8" stroke="#2ed82e" stroke-width="3.0" />
<line x1="584.7" y1="746.8" x2="598.9" y2="740.2" stroke="#2ed82e" stroke-width="3.0" /><line x1="598.9" y1="740.2" x2="613.1" y2="733.6" stroke="#4a4b53" stroke-width="3.0" />
<line x1="613.1" y1="733.6" x2="629.3" y2="722.8" stroke="#4a4b53" stroke-width="3.0" /><line x1="629.3" y1="722.8" x2="645.5" y2="712.0" stroke="#2ed82e" stroke-width="3.0" />
<line x1="645.5" y1="712.0" x2="660.0" y2="718.6" stroke="#2ed82e" stroke-width="3.0" /><line x1="660.0" y1="718.6" x2="674.4" y2="725.2" stroke="#4a4b53" stroke-width="3.0" />
<line x1="674.4" y1="725.2" x2="691.0" y2="736.0" stroke="#4a4b53" stroke-width="3.0" /><line x1="691.0" y1="736.0" x2="707.5" y2="746.8" stroke="#2ed82e" stroke-width="3.0" />
<line x1="491.1" y1="733.6" x2="494.0" y2="748.4" stroke="#4a4b53" stroke-width="3.0" /><line x1="494.0" y1="748.4" x2="496.8" y2="763.1" stroke="#e80000" stroke-width="3.0" />
<line x1="491.1" y1="733.6" x2="499.1" y2="737.4" stroke="#4a4b53" stroke-width="3.0" /><line x1="499.1" y1="737.4" x2="507.0" y2="741.1" stroke="#e80000" stroke-width="3.0" />
<line x1="507.0" y1="741.1" x2="511.0" y2="736.8" stroke="#e80000" stroke-width="3.0" /><line x1="511.0" y1="736.8" x2="515.0" y2="732.5" stroke="#e8c4c4" stroke-width="3.0" />
<line x1="552.0" y1="725.2" x2="546.5" y2="741.1" stroke="#4a4b53" stroke-width="3.0" /><line x1="546.5" y1="741.1" x2="541.1" y2="757.0" stroke="#2ed82e" stroke-width="3.0" />
<line x1="552.0" y1="725.2" x2="560.1" y2="721.8" stroke="#4a4b53" stroke-width="3.0" /><line x1="560.1" y1="721.8" x2="568.3" y2="718.4" stroke="#e80000" stroke-width="3.0" />
<line x1="568.3" y1="718.4" x2="572.3" y2="722.6" stroke="#e80000" stroke-width="3.0" /><line x1="572.3" y1="722.6" x2="576.3" y2="726.8" stroke="#e8c4c4" stroke-width="3.0" />
<line x1="613.1" y1="733.6" x2="616.0" y2="748.4" stroke="#4a4b53" stroke-width="3.0" /><line x1="616.0" y1="748.4" x2="619.0" y2="763.1" stroke="#e80000" stroke-width="3.0" />
<line x1="613.1" y1="733.6" x2="621.2" y2="737.4" stroke="#4a4b53" stroke-width="3.0" /><line x1="621.2" y1="737.4" x2="629.2" y2="741.1" stroke="#e80000" stroke-width="3.0" />
<line x1="629.2" y1="741.1" x2="633.2" y2="736.8" stroke="#e80000" stroke-width="3.0" /><line x1="633.2" y1="736.8" x2="637.1" y2="732.5" stroke="#e8c4c4" stroke-width="3.0" />
<line x1="674.4" y1="725.2" x2="668.8" y2="741.1" stroke="#4a4b53" stroke-width="3.0" /><line x1="668.8" y1="741.1" x2="663.3" y2="757.0" stroke="#2ed82e" stroke-width="3.0" />
<line x1="674.4" y1="725.2" x2="682.5" y2="721.8" stroke="#4a4b53" stroke-width="3.0" /><line x1="682.5" y1="721.8" x2="690.5" y2="718.4" stroke="#e80000" stroke-width="3.0" />
<circle cx="515.0" cy="732.5" r="2.9" fill="url(#gH)" />
<circle cx="576.3" cy="726.8" r="2.9" fill="url(#gH)" />
<circle cx="637.1" cy="732.5" r="2.9" fill="url(#gH)" />
<circle cx="496.8" cy="763.1" r="4.1" fill="url(#gO)" />
<circle cx="507.0" cy="741.1" r="4.1" fill="url(#gO)" />
<circle cx="568.3" cy="718.4" r="4.1" fill="url(#gO)" />
<circle cx="619.0" cy="763.1" r="4.1" fill="url(#gO)" />
<circle cx="629.2" cy="741.1" r="4.1" fill="url(#gO)" />
<circle cx="690.5" cy="718.4" r="4.1" fill="url(#gO)" />
<circle cx="462.7" cy="746.8" r="5.0" fill="url(#gCl)" />
<circle cx="523.6" cy="712.0" r="5.0" fill="url(#gCl)" />
<circle cx="541.1" cy="757.0" r="5.0" fill="url(#gCl)" />
<circle cx="584.7" cy="746.8" r="5.0" fill="url(#gCl)" />
<circle cx="645.5" cy="712.0" r="5.0" fill="url(#gCl)" />
<circle cx="663.3" cy="757.0" r="5.0" fill="url(#gCl)" />
<circle cx="707.5" cy="746.8" r="5.0" fill="url(#gCl)" />
<circle cx="491.1" cy="733.6" r="8.8" fill="url(#gPb)" />
<circle cx="552.0" cy="725.2" r="8.8" fill="url(#gPb)" />
<circle cx="613.1" cy="733.6" r="8.8" fill="url(#gPb)" />
<circle cx="674.4" cy="725.2" r="8.8" fill="url(#gPb)" />
<line x1="61.7" y1="718.5" x2="420.3" y2="718.5" stroke="#222" stroke-width="1.0" stroke-dasharray="5.8 1.2"/>
<line x1="61.7" y1="758.5" x2="398.0" y2="758.5" stroke="#111" stroke-width="1.0" stroke-dasharray="5.8 1.2"/>
<line x1="61.7" y1="762.5" x2="440.0" y2="762.5" stroke="#222" stroke-width="1.3" stroke-dasharray="1.3 2.7"/>
<line x1="61.7" y1="790.5" x2="739.0" y2="790.5" stroke="#222" stroke-width="1.3" stroke-dasharray="1.3 2.7"/>
<line x1="442.3" y1="762.5" x2="742.1" y2="762.5" stroke="#222" stroke-width="1.3" stroke-dasharray="1.3 2.7"/>
<line x1="73.2" y1="767.6" x2="73.2" y2="785.6" stroke="#333" stroke-width="1.3"/><path d="M73.2 762.6L70.0 770.1L76.4 770.1Z M73.2 790.6L70.0 783.1L76.4 783.1Z" fill="#000"/>
<circle cx="240.2" cy="72.2" r="14.2" fill="url(#gPb)" />
<circle cx="240.7" cy="118.4" r="8.9" fill="url(#gBr)" />
<circle cx="240.7" cy="160.1" r="5.7" fill="url(#gO)" />
<circle cx="240.7" cy="204.2" r="3.9" fill="url(#gH)" />
<line x1="216.7" y1="268" x2="216.7" y2="237" stroke="#0000ff" stroke-width="3.8"/>
<path d="M216.7 223.1L210.8 239L222.6 239Z" fill="#0000ff"/>
<line x1="216.7" y1="268.6" x2="246.5" y2="270.6" stroke="#00e600" stroke-width="3.8"/>
<path d="M260.8 271.2L245.4 265.0L245.0 277.0Z" fill="#00e600"/>
<circle cx="216.7" cy="268.5" r="4.2" fill="url(#gH)" style="fill:#dddddd"/>
<line x1="216.7" y1="268.6" x2="207.1" y2="273.8" stroke="#ff0000" stroke-width="3.8"/>
<circle cx="207.1" cy="273.8" r="5.3" fill="#ff0000"/>
<line x1="400.9" y1="34.8" x2="400.9" y2="231.0" stroke="#9a9a9a" stroke-width="1.2" />
<line x1="400.9" y1="231.0" x2="354.7" y2="254.3" stroke="#222" stroke-width="0.9" />
<line x1="400.9" y1="231.0" x2="477.6" y2="235.1" stroke="#9a9a9a" stroke-width="0.9" />
<line x1="354.5" y1="57.4" x2="400.9" y2="34.8" stroke="#222" stroke-width="0.9" />
<line x1="400.9" y1="34.8" x2="478.4" y2="38.9" stroke="#222" stroke-width="0.9" />
<line x1="478.4" y1="38.9" x2="432.0" y2="61.8" stroke="#222" stroke-width="0.9" />
<line x1="432.0" y1="61.8" x2="354.5" y2="57.4" stroke="#222" stroke-width="0.9" />
<line x1="354.5" y1="57.4" x2="354.7" y2="254.3" stroke="#222" stroke-width="0.9" />
<line x1="432.0" y1="61.8" x2="432.1" y2="258.7" stroke="#9a9a9a" stroke-width="1.2" />
<line x1="478.4" y1="38.9" x2="477.6" y2="235.1" stroke="#9a9a9a" stroke-width="1.4" />
<line x1="354.7" y1="254.3" x2="432.1" y2="258.7" stroke="#222" stroke-width="0.9" />
<line x1="432.1" y1="258.7" x2="477.6" y2="235.1" stroke="#222" stroke-width="0.9" />
<line x1="432.9" y1="14.8" x2="427.4" y2="43.4" stroke="#6e2d06" stroke-width="4.6" /><line x1="427.4" y1="43.4" x2="422.0" y2="72.0" stroke="#4a4b53" stroke-width="4.6" />
<line x1="379.1" y1="47.9" x2="400.6" y2="60.0" stroke="#e80000" stroke-width="4.6" /><line x1="400.6" y1="60.0" x2="422.0" y2="72.0" stroke="#4a4b53" stroke-width="4.6" />
<line x1="379.1" y1="47.9" x2="381.0" y2="39.5" stroke="#e80000" stroke-width="4.6" /><line x1="381.0" y1="39.5" x2="382.8" y2="31.2" stroke="#e8c4c4" stroke-width="4.6" />
<line x1="456.2" y1="52.2" x2="439.1" y2="62.1" stroke="#e80000" stroke-width="4.6" /><line x1="439.1" y1="62.1" x2="422.0" y2="72.0" stroke="#4a4b53" stroke-width="4.6" />
<line x1="452.1" y1="47.6" x2="456.0" y2="41.5" stroke="#e80000" stroke-width="4.6" /><line x1="456.0" y1="41.5" x2="459.8" y2="35.3" stroke="#e8c4c4" stroke-width="4.6" />
<line x1="456.2" y1="52.2" x2="452.9" y2="58.8" stroke="#e80000" stroke-width="4.6" /><line x1="452.9" y1="58.8" x2="449.6" y2="65.3" stroke="#e8c4c4" stroke-width="4.6" />
<line x1="406.5" y1="71.4" x2="414.2" y2="71.7" stroke="#e80000" stroke-width="4.6" /><line x1="414.2" y1="71.7" x2="422.0" y2="72.0" stroke="#4a4b53" stroke-width="4.6" />
<line x1="406.5" y1="71.4" x2="404.9" y2="80.0" stroke="#e80000" stroke-width="4.6" /><line x1="404.9" y1="80.0" x2="403.4" y2="88.6" stroke="#e8c4c4" stroke-width="4.6" />
<line x1="422.0" y1="72.0" x2="448.9" y2="78.7" stroke="#4a4b53" stroke-width="4.6" /><line x1="448.9" y1="78.7" x2="475.9" y2="85.3" stroke="#6e2d06" stroke-width="4.6" />
<line x1="422.0" y1="72.0" x2="398.9" y2="96.0" stroke="#4a4b53" stroke-width="4.6" /><line x1="398.9" y1="96.0" x2="375.9" y2="119.9" stroke="#6e2d06" stroke-width="4.6" />
<line x1="422.0" y1="72.0" x2="422.3" y2="84.4" stroke="#4a4b53" stroke-width="4.6" /><line x1="422.3" y1="84.4" x2="422.6" y2="96.8" stroke="#6e2d06" stroke-width="4.6" />
<line x1="475.9" y1="85.3" x2="457.9" y2="104.2" stroke="#6e2d06" stroke-width="4.6" /><line x1="457.9" y1="104.2" x2="439.8" y2="123.0" stroke="#4a4b53" stroke-width="4.6" />
<line x1="499.5" y1="101.6" x2="469.6" y2="112.3" stroke="#6e2d06" stroke-width="4.6" /><line x1="469.6" y1="112.3" x2="439.8" y2="123.0" stroke="#4a4b53" stroke-width="4.6" />
<line x1="453.4" y1="124.5" x2="446.6" y2="123.8" stroke="#6e2d06" stroke-width="4.6" /><line x1="446.6" y1="123.8" x2="439.8" y2="123.0" stroke="#4a4b53" stroke-width="4.6" />
<line x1="439.8" y1="123.0" x2="459.5" y2="139.0" stroke="#4a4b53" stroke-width="4.6" /><line x1="459.5" y1="139.0" x2="479.2" y2="155.0" stroke="#e80000" stroke-width="4.6" />
<line x1="479.2" y1="155.0" x2="481.1" y2="161.3" stroke="#e80000" stroke-width="4.6" /><line x1="481.1" y1="161.3" x2="483.1" y2="167.6" stroke="#e8c4c4" stroke-width="4.6" />
<line x1="422.0" y1="72.0" x2="437.7" y2="98.2" stroke="#4a4b53" stroke-width="4.6" /><line x1="437.7" y1="98.2" x2="453.4" y2="124.5" stroke="#6e2d06" stroke-width="4.6" />
<line x1="398.8" y1="81.2" x2="419.3" y2="102.1" stroke="#6e2d06" stroke-width="4.6" /><line x1="419.3" y1="102.1" x2="439.8" y2="123.0" stroke="#4a4b53" stroke-width="4.6" />
<line x1="439.8" y1="123.0" x2="448.1" y2="147.9" stroke="#4a4b53" stroke-width="4.6" /><line x1="448.1" y1="147.9" x2="456.5" y2="172.8" stroke="#6e2d06" stroke-width="4.6" />
<line x1="375.9" y1="119.9" x2="381.8" y2="141.7" stroke="#6e2d06" stroke-width="4.6" /><line x1="381.8" y1="141.7" x2="387.6" y2="163.5" stroke="#4a4b53" stroke-width="4.6" />
<line x1="352.3" y1="138.3" x2="370.0" y2="150.9" stroke="#e80000" stroke-width="4.6" /><line x1="370.0" y1="150.9" x2="387.6" y2="163.5" stroke="#4a4b53" stroke-width="4.6" />
<line x1="352.3" y1="138.3" x2="350.5" y2="131.7" stroke="#e80000" stroke-width="4.6" /><line x1="350.5" y1="131.7" x2="348.7" y2="125.0" stroke="#e8c4c4" stroke-width="4.6" />
<line x1="402.1" y1="152.0" x2="394.9" y2="157.8" stroke="#e80000" stroke-width="4.6" /><line x1="394.9" y1="157.8" x2="387.6" y2="163.5" stroke="#4a4b53" stroke-width="4.6" />
<line x1="402.1" y1="152.0" x2="404.0" y2="157.9" stroke="#e80000" stroke-width="4.6" /><line x1="404.0" y1="157.9" x2="405.9" y2="163.8" stroke="#e8c4c4" stroke-width="4.6" />
<line x1="430.0" y1="141.8" x2="427.9" y2="135.6" stroke="#e80000" stroke-width="4.6" /><line x1="427.9" y1="135.6" x2="425.8" y2="129.3" stroke="#e8c4c4" stroke-width="4.6" />
<line x1="402.1" y1="152.0" x2="416.1" y2="146.9" stroke="#e80000" stroke-width="4.6" /><line x1="416.1" y1="146.9" x2="430.0" y2="141.8" stroke="#e80000" stroke-width="4.6" />
<line x1="387.6" y1="163.5" x2="360.0" y2="177.6" stroke="#4a4b53" stroke-width="4.6" /><line x1="360.0" y1="177.6" x2="332.3" y2="191.6" stroke="#6e2d06" stroke-width="4.6" />
<line x1="387.6" y1="163.5" x2="371.6" y2="185.4" stroke="#4a4b53" stroke-width="4.6" /><line x1="371.6" y1="185.4" x2="355.5" y2="207.4" stroke="#6e2d06" stroke-width="4.6" />
<line x1="387.6" y1="163.5" x2="398.8" y2="179.4" stroke="#4a4b53" stroke-width="4.6" /><line x1="398.8" y1="179.4" x2="409.9" y2="195.3" stroke="#6e2d06" stroke-width="4.6" />
<line x1="355.5" y1="207.4" x2="383.4" y2="212.9" stroke="#6e2d06" stroke-width="4.6" /><line x1="383.4" y1="212.9" x2="411.2" y2="218.3" stroke="#4a4b53" stroke-width="4.6" />
<line x1="372.7" y1="167.5" x2="391.9" y2="192.9" stroke="#6e2d06" stroke-width="4.6" /><line x1="391.9" y1="192.9" x2="411.2" y2="218.3" stroke="#4a4b53" stroke-width="4.6" />
<line x1="456.5" y1="172.8" x2="433.9" y2="195.6" stroke="#6e2d06" stroke-width="4.6" /><line x1="433.9" y1="195.6" x2="411.2" y2="218.3" stroke="#4a4b53" stroke-width="4.6" />
<line x1="433.0" y1="211.4" x2="422.1" y2="214.9" stroke="#6e2d06" stroke-width="4.6" /><line x1="422.1" y1="214.9" x2="411.2" y2="218.3" stroke="#4a4b53" stroke-width="4.6" />
<line x1="411.2" y1="218.3" x2="393.6" y2="230.2" stroke="#4a4b53" stroke-width="4.6" /><line x1="393.6" y1="230.2" x2="376.0" y2="242.1" stroke="#e80000" stroke-width="4.6" />
<line x1="411.2" y1="218.3" x2="432.1" y2="231.9" stroke="#4a4b53" stroke-width="4.6" /><line x1="432.1" y1="231.9" x2="453.1" y2="245.6" stroke="#e80000" stroke-width="4.6" />
<line x1="376.0" y1="242.1" x2="379.5" y2="234.9" stroke="#e80000" stroke-width="4.6" /><line x1="379.5" y1="234.9" x2="383.0" y2="227.8" stroke="#e8c4c4" stroke-width="4.6" />
<line x1="379.5" y1="244.7" x2="376.0" y2="251.7" stroke="#e80000" stroke-width="4.6" /><line x1="376.0" y1="251.7" x2="372.5" y2="258.7" stroke="#e8c4c4" stroke-width="4.6" />
<line x1="453.1" y1="245.6" x2="451.4" y2="253.9" stroke="#e80000" stroke-width="4.6" /><line x1="451.4" y1="253.9" x2="449.6" y2="262.2" stroke="#e8c4c4" stroke-width="4.6" />
<line x1="411.2" y1="218.3" x2="405.4" y2="248.4" stroke="#4a4b53" stroke-width="4.6" /><line x1="405.4" y1="248.4" x2="399.7" y2="278.5" stroke="#6e2d06" stroke-width="4.6" />
<line x1="409.9" y1="195.3" x2="410.5" y2="206.8" stroke="#6e2d06" stroke-width="4.6" /><line x1="410.5" y1="206.8" x2="411.2" y2="218.3" stroke="#4a4b53" stroke-width="4.6" />
<circle cx="398.8" cy="81.2" r="9.0" fill="url(#gBr)" />
<circle cx="372.7" cy="167.5" r="8.8" fill="url(#gBr)" />
<circle cx="430.0" cy="141.8" r="5.6" fill="url(#gO)" />
<circle cx="405.9" cy="163.8" r="3.6" fill="url(#gH)" />
<circle cx="383.0" cy="227.8" r="3.6" fill="url(#gH)" />
<circle cx="456.5" cy="172.8" r="8.8" fill="url(#gBr)" />
<circle cx="402.1" cy="152.0" r="5.6" fill="url(#gO)" />
<circle cx="425.8" cy="129.3" r="3.6" fill="url(#gH)" />
<circle cx="422.6" cy="96.8" r="8.8" fill="url(#gBr)" />
<circle cx="422.0" cy="72.0" r="13.0" fill="url(#gPb)" />
<circle cx="439.8" cy="123.0" r="12.4" fill="url(#gPb)" />
<circle cx="387.6" cy="163.5" r="13.6" fill="url(#gPb)" />
<circle cx="411.2" cy="218.3" r="13.8" fill="url(#gPb)" />
<polygon points="354.5,87.2 432.0,91.6 478.4,68.7 400.9,64.6" fill="url(#gPlane)" fill-opacity="0.85"/>
<polygon points="354.5,146.3 432.0,150.7 478.4,127.8 400.9,123.7" fill="url(#gPlane)" fill-opacity="0.85"/>
<polygon points="354.5,179.8 432.0,184.2 478.4,161.3 400.9,157.2" fill="url(#gPlane)" fill-opacity="0.85"/>
<polygon points="354.5,231.9 432.0,236.3 478.4,213.4 400.9,209.3" fill="url(#gPlane)" fill-opacity="0.85"/>
<clipPath id="cpA"><rect x="300" y="0" width="200" height="69.5"/></clipPath>
<clipPath id="cpB"><rect x="300" y="0" width="200" height="123.5"/></clipPath>
<clipPath id="cpC"><rect x="300" y="0" width="200" height="164.5"/></clipPath>
<clipPath id="cpD"><rect x="300" y="0" width="200" height="217.5"/></clipPath>
<g clip-path="url(#cpA)"><circle cx="422.0" cy="72.0" r="13.0" fill="url(#gPb)" /></g>
<g clip-path="url(#cpB)"><circle cx="439.8" cy="123.0" r="12.4" fill="url(#gPb)" /></g>
<g clip-path="url(#cpC)"><circle cx="387.6" cy="163.5" r="13.6" fill="url(#gPb)" /></g>
<g clip-path="url(#cpD)"><circle cx="411.2" cy="218.3" r="13.8" fill="url(#gPb)" /></g>
<line x1="432.9" y1="14.8" x2="427.4" y2="43.4" stroke="#6e2d06" stroke-width="4.6" /><line x1="427.4" y1="43.4" x2="422.0" y2="72.0" stroke="#4a4b53" stroke-width="4.6" />
<line x1="379.1" y1="47.9" x2="400.6" y2="60.0" stroke="#e80000" stroke-width="4.6" /><line x1="400.6" y1="60.0" x2="422.0" y2="72.0" stroke="#4a4b53" stroke-width="4.6" />
<line x1="456.2" y1="52.2" x2="439.1" y2="62.1" stroke="#e80000" stroke-width="4.6" /><line x1="439.1" y1="62.1" x2="422.0" y2="72.0" stroke="#4a4b53" stroke-width="4.6" />
<line x1="406.5" y1="71.4" x2="414.2" y2="71.7" stroke="#e80000" stroke-width="4.6" /><line x1="414.2" y1="71.7" x2="422.0" y2="72.0" stroke="#4a4b53" stroke-width="4.6" />
<line x1="422.0" y1="72.0" x2="448.9" y2="78.7" stroke="#4a4b53" stroke-width="4.6" /><line x1="448.9" y1="78.7" x2="475.9" y2="85.3" stroke="#6e2d06" stroke-width="4.6" />
<line x1="475.9" y1="85.3" x2="457.9" y2="104.2" stroke="#6e2d06" stroke-width="4.6" /><line x1="457.9" y1="104.2" x2="439.8" y2="123.0" stroke="#4a4b53" stroke-width="4.6" />
<line x1="499.5" y1="101.6" x2="469.6" y2="112.3" stroke="#6e2d06" stroke-width="4.6" /><line x1="469.6" y1="112.3" x2="439.8" y2="123.0" stroke="#4a4b53" stroke-width="4.6" />
<line x1="439.8" y1="123.0" x2="459.5" y2="139.0" stroke="#4a4b53" stroke-width="4.6" /><line x1="459.5" y1="139.0" x2="479.2" y2="155.0" stroke="#e80000" stroke-width="4.6" />
<line x1="375.9" y1="119.9" x2="381.8" y2="141.7" stroke="#6e2d06" stroke-width="4.6" /><line x1="381.8" y1="141.7" x2="387.6" y2="163.5" stroke="#4a4b53" stroke-width="4.6" />
<line x1="352.3" y1="138.3" x2="370.0" y2="150.9" stroke="#e80000" stroke-width="4.6" /><line x1="370.0" y1="150.9" x2="387.6" y2="163.5" stroke="#4a4b53" stroke-width="4.6" />
<line x1="402.1" y1="152.0" x2="394.9" y2="157.8" stroke="#e80000" stroke-width="4.6" /><line x1="394.9" y1="157.8" x2="387.6" y2="163.5" stroke="#4a4b53" stroke-width="4.6" />
<line x1="387.6" y1="163.5" x2="360.0" y2="177.6" stroke="#4a4b53" stroke-width="4.6" /><line x1="360.0" y1="177.6" x2="332.3" y2="191.6" stroke="#6e2d06" stroke-width="4.6" />
<line x1="387.6" y1="163.5" x2="371.6" y2="185.4" stroke="#4a4b53" stroke-width="4.6" /><line x1="371.6" y1="185.4" x2="355.5" y2="207.4" stroke="#6e2d06" stroke-width="4.6" />
<line x1="355.5" y1="207.4" x2="383.4" y2="212.9" stroke="#6e2d06" stroke-width="4.6" /><line x1="383.4" y1="212.9" x2="411.2" y2="218.3" stroke="#4a4b53" stroke-width="4.6" />
<line x1="433.0" y1="211.4" x2="422.1" y2="214.9" stroke="#6e2d06" stroke-width="4.6" /><line x1="422.1" y1="214.9" x2="411.2" y2="218.3" stroke="#4a4b53" stroke-width="4.6" />
<line x1="411.2" y1="218.3" x2="432.1" y2="231.9" stroke="#4a4b53" stroke-width="4.6" /><line x1="432.1" y1="231.9" x2="453.1" y2="245.6" stroke="#e80000" stroke-width="4.6" />
<line x1="411.2" y1="218.3" x2="405.4" y2="248.4" stroke="#4a4b53" stroke-width="4.6" /><line x1="405.4" y1="248.4" x2="399.7" y2="278.5" stroke="#6e2d06" stroke-width="4.6" />
<line x1="411.2" y1="218.3" x2="393.6" y2="230.2" stroke="#4a4b53" stroke-width="4.6" /><line x1="393.6" y1="230.2" x2="376.0" y2="242.1" stroke="#e80000" stroke-width="4.6" />
<line x1="409.9" y1="195.3" x2="410.5" y2="206.8" stroke="#6e2d06" stroke-width="4.6" /><line x1="410.5" y1="206.8" x2="411.2" y2="218.3" stroke="#4a4b53" stroke-width="4.6" />
<line x1="387.6" y1="163.5" x2="398.8" y2="179.4" stroke="#4a4b53" stroke-width="4.6" /><line x1="398.8" y1="179.4" x2="409.9" y2="195.3" stroke="#6e2d06" stroke-width="4.6" />
<circle cx="422.0" cy="72.0" r="13.0" fill="url(#gPb)" />
<path d="M409.24 74.50A13.0 13.0 0 0 0 434.76 74.50Z" fill="#c0c0c0" fill-opacity="0.52"/>
<circle cx="439.8" cy="123.0" r="12.4" fill="url(#gPb)" />
<path d="M428.06 127.00A12.4 12.4 0 0 0 451.54 127.00Z" fill="#c0c0c0" fill-opacity="0.52"/>
<circle cx="387.6" cy="163.5" r="13.6" fill="url(#gPb)" />
<path d="M374.15 165.50A13.6 13.6 0 0 0 401.05 165.50Z" fill="#c0c0c0" fill-opacity="0.52"/>
<circle cx="411.2" cy="218.3" r="13.8" fill="url(#gPb)" />
<path d="M397.67 221.00A13.8 13.8 0 0 0 424.73 221.00Z" fill="#c0c0c0" fill-opacity="0.52"/>
<circle cx="382.8" cy="31.2" r="3.6" fill="url(#gH)" />
<circle cx="459.8" cy="35.3" r="3.6" fill="url(#gH)" />
<circle cx="449.6" cy="65.3" r="3.6" fill="url(#gH)" />
<circle cx="403.4" cy="88.6" r="3.6" fill="url(#gH)" />
<circle cx="348.7" cy="125.0" r="3.6" fill="url(#gH)" />
<circle cx="483.1" cy="167.6" r="3.6" fill="url(#gH)" />
<circle cx="372.5" cy="258.7" r="3.6" fill="url(#gH)" />
<circle cx="449.6" cy="262.2" r="3.6" fill="url(#gH)" />
<circle cx="432.9" cy="14.8" r="9.3" fill="url(#gBr)" />
<circle cx="379.1" cy="47.9" r="5.8" fill="url(#gO)" />
<circle cx="452.1" cy="47.6" r="5.8" fill="url(#gO)" />
<circle cx="456.2" cy="52.2" r="5.8" fill="url(#gO)" />
<circle cx="406.5" cy="71.4" r="5.8" fill="url(#gO)" />
<circle cx="475.9" cy="85.3" r="8.8" fill="url(#gBr)" />
<circle cx="375.9" cy="119.9" r="8.8" fill="url(#gBr)" />
<circle cx="499.5" cy="101.6" r="8.8" fill="url(#gBr)" />
<circle cx="453.4" cy="124.5" r="8.8" fill="url(#gBr)" />
<circle cx="352.3" cy="138.3" r="5.8" fill="url(#gO)" />
<circle cx="479.2" cy="155.0" r="5.8" fill="url(#gO)" />
<circle cx="332.3" cy="191.6" r="8.8" fill="url(#gBr)" />
<circle cx="355.5" cy="207.4" r="8.8" fill="url(#gBr)" />
<circle cx="409.9" cy="195.3" r="8.8" fill="url(#gBr)" />
<circle cx="433.0" cy="211.4" r="8.8" fill="url(#gBr)" />
<circle cx="376.0" cy="242.1" r="5.8" fill="url(#gO)" />
<circle cx="379.5" cy="244.7" r="5.8" fill="url(#gO)" />
<circle cx="453.1" cy="245.6" r="5.8" fill="url(#gO)" />
<circle cx="399.7" cy="278.5" r="9.2" fill="url(#gBr)" />
<line x1="478.4" y1="68.5" x2="505.0" y2="68.5" stroke="#111" stroke-width="1.1" stroke-dasharray="3 1.6"/>
<line x1="478.4" y1="127.5" x2="505.0" y2="127.5" stroke="#111" stroke-width="1.1" stroke-dasharray="3 1.6"/>
<line x1="478.4" y1="161.5" x2="505.0" y2="161.5" stroke="#111" stroke-width="1.1" stroke-dasharray="3 1.6"/>
<line x1="478.4" y1="213.5" x2="505.0" y2="213.5" stroke="#111" stroke-width="1.1" stroke-dasharray="3 1.6"/>
<path d="M319.70 365.00H327.70V367.40H324.90V381.70H327.70V384.10H319.70V381.70H322.50V367.40H319.70Z" fill="#000"/>
<path d="M645.70 365.00H653.70V367.40H650.90V381.70H653.70V384.10H645.70V381.70H648.50V367.40H645.70Z" fill="#000"/>
<path d="M657.10 365.00H665.10V367.40H662.30V381.70H665.10V384.10H657.10V381.70H659.90V367.40H657.10Z" fill="#000"/>
<path d="M337.70 671.00H345.70V673.60H343.00V688.80H345.70V691.40H337.70V688.80H340.40V673.60H337.70Z" fill="#000"/>
<path d="M674.90 671.10H682.90V673.70H680.20V688.80H682.90V691.40H674.90V688.80H677.60V673.70H674.90Z" fill="#000"/>
<path d="M686.80 671.10H694.80V673.70H692.10V688.80H694.80V691.40H686.80V688.80H689.50V673.70H686.80Z" fill="#000"/>
<g style="will-change:transform"><text transform="translate(835.72,693.15) scale(1.0957,1)" style="font-family:'Liberation Sans';font-size:31.74px;font-weight:normal;font-style:normal" fill="#000" >0</text>
<text transform="translate(836.06,568.60) scale(1.0800,1)" style="font-family:'Liberation Sans';font-size:32.20px;font-weight:normal;font-style:normal" fill="#000" >1</text>
<text transform="translate(836.24,444.05) scale(1.0957,1)" style="font-family:'Liberation Sans';font-size:31.74px;font-weight:normal;font-style:normal" fill="#000" >2</text>
<text transform="translate(835.89,319.50) scale(1.0957,1)" style="font-family:'Liberation Sans';font-size:31.74px;font-weight:normal;font-style:normal" fill="#000" >3</text>
<text transform="translate(835.54,194.95) scale(1.0800,1)" style="font-family:'Liberation Sans';font-size:32.20px;font-weight:normal;font-style:normal" fill="#000" >4</text>
<text transform="translate(835.89,70.40) scale(1.0800,1)" style="font-family:'Liberation Sans';font-size:32.20px;font-weight:normal;font-style:normal" fill="#000" >5</text>
<text transform="translate(809.82,817.90) scale(1.2120,1)" style="font-family:'Liberation Sans';font-size:32.61px;font-weight:normal;font-style:normal" fill="#000" >−1</text>
<text transform="translate(939.10,864.90) scale(1.1569,1)" style="font-family:'Liberation Sans';font-size:32.86px;font-weight:normal;font-style:normal" fill="#000" >−10</text>
<text transform="translate(1170.89,865.30) scale(1.0312,1)" style="font-family:'Liberation Sans';font-size:34.14px;font-weight:normal;font-style:normal" fill="#000" >0</text>
<text transform="translate(1371.39,865.00) scale(1.0591,1)" style="font-family:'Liberation Sans';font-size:32.86px;font-weight:normal;font-style:normal" fill="#000" >10</text>
<text transform="translate(877.68,156.30) scale(1.1119,1)" style="font-family:'Liberation Sans';font-size:32.43px;font-weight:normal;font-style:normal" fill="#80330f" >-0.80 V</text>
<text transform="translate(877.68,280.85) scale(1.1119,1)" style="font-family:'Liberation Sans';font-size:32.43px;font-weight:normal;font-style:normal" fill="#80330f" >-1.20 V</text>
<text transform="translate(877.68,405.40) scale(1.1119,1)" style="font-family:'Liberation Sans';font-size:32.43px;font-weight:normal;font-style:normal" fill="#33d433" >-0.90 V</text>
<text transform="translate(877.68,529.95) scale(1.1119,1)" style="font-family:'Liberation Sans';font-size:32.43px;font-weight:normal;font-style:normal" fill="#33d433" >-1.20 V</text>
<text transform="translate(877.68,654.50) scale(1.1119,1)" style="font-family:'Liberation Sans';font-size:32.43px;font-weight:normal;font-style:normal" fill="#8c96c6" >-0.70 V</text>
<text transform="translate(877.68,779.05) scale(1.1119,1)" style="font-family:'Liberation Sans';font-size:32.43px;font-weight:normal;font-style:normal" fill="#8c96c6" >-1.20 V</text>
<text transform="translate(1279.79,127.20) scale(1.1043,1)" style="font-family:'Liberation Sans';font-size:31.86px;font-weight:normal;font-style:normal" fill="#000" >NaBr + PbBr</text>
<text transform="translate(1477.28,132.20) scale(1.0105,1)" style="font-family:'Liberation Sans';font-size:24.14px;font-weight:normal;font-style:normal" fill="#000" >2</text>
<text transform="translate(1279.84,376.30) scale(1.0841,1)" style="font-family:'Liberation Sans';font-size:31.86px;font-weight:normal;font-style:normal" fill="#000" >NaCl + PbCl</text>
<text transform="translate(1469.74,381.30) scale(0.9650,1)" style="font-family:'Liberation Sans';font-size:24.14px;font-weight:normal;font-style:normal" fill="#000" >2</text>
<text transform="translate(1279.89,625.40) scale(1.0614,1)" style="font-family:'Liberation Sans';font-size:31.86px;font-weight:normal;font-style:normal" fill="#000" >NaF + PbF</text>
<text transform="translate(1444.40,630.40) scale(0.9923,1)" style="font-family:'Liberation Sans';font-size:24.14px;font-weight:normal;font-style:normal" fill="#000" >2</text>
<text transform="translate(750.92,53.30) scale(1.0167,1)" style="font-family:'Liberation Sans';font-size:70.90px;font-weight:bold;font-style:normal" fill="#000" >d</text>
<text transform="rotate(-90) translate(-476.31,791.95) scale(1.2306,1)" style="font-family:'Liberation Sans';font-size:32.67px;font-weight:normal;font-style:normal" fill="#000">&lt;</text>
<text transform="rotate(-90) translate(-444.39,790.75) scale(1.0135,1)" style="font-family:'Liberation Sans';font-size:32.13px;font-weight:normal;font-style:italic" fill="#000">ρ</text>
<text transform="rotate(-90) translate(-425.36,788.62) scale(0.8853,1)" style="font-family:'Liberation Sans';font-size:29.41px;font-weight:normal;font-style:normal" fill="#000">(</text>
<text transform="rotate(-90) translate(-413.74,791.00) scale(1.0366,1)" style="font-family:'Liberation Sans';font-size:31.70px;font-weight:normal;font-style:italic" fill="#000">z</text>
<text transform="rotate(-90) translate(-396.04,788.62) scale(0.9751,1)" style="font-family:'Liberation Sans';font-size:29.41px;font-weight:normal;font-style:normal" fill="#000">)</text>
<text transform="rotate(-90) translate(-378.77,791.95) scale(1.2053,1)" style="font-family:'Liberation Sans';font-size:32.67px;font-weight:normal;font-style:normal" fill="#000">&gt;</text>
<text transform="translate(1145.27,909.80) scale(1.0880,1)" style="font-family:'Liberation Sans';font-size:31.89px;font-weight:normal;font-style:italic" fill="#000" >z</text>
<text transform="translate(1171.55,909.80) scale(1.0844,1)" style="font-family:'Liberation Sans';font-size:32.28px;font-weight:normal;font-style:normal" fill="#000" >[</text>
<text transform="translate(1184.50,909.80) scale(0.9181,1)" style="font-family:'Liberation Sans';font-size:32.76px;font-weight:normal;font-style:italic" fill="#000" >Å</text>
<text transform="translate(1206.62,909.80) scale(1.0844,1)" style="font-family:'Liberation Sans';font-size:32.28px;font-weight:normal;font-style:normal" fill="#000" >]</text>
<text transform="translate(155.73,40.20) scale(0.9374,1)" style="font-family:'Liberation Sans';font-size:70.19px;font-weight:bold;font-style:normal" fill="#000" >a</text>
<text transform="translate(-3.92,355.50) scale(1.0351,1)" style="font-family:'Liberation Sans';font-size:70.21px;font-weight:bold;font-style:normal" fill="#000" >b</text>
<text transform="translate(-2.21,666.90) scale(1.0316,1)" style="font-family:'Liberation Sans';font-size:70.56px;font-weight:bold;font-style:normal" fill="#000" >c</text>
<text transform="translate(259.75,82.30) scale(0.9483,1)" style="font-family:'Liberation Sans';font-size:27.03px;font-weight:normal;font-style:normal" fill="#000" >Pb</text>
<text transform="translate(259.63,127.80) scale(1.1125,1)" style="font-family:'Liberation Sans';font-size:26.67px;font-weight:normal;font-style:normal" fill="#000" >Br</text>
<text transform="translate(259.56,169.40) scale(1.0730,1)" style="font-family:'Liberation Sans';font-size:25.71px;font-weight:normal;font-style:normal" fill="#000" >O</text>
<text transform="translate(258.47,213.50) scale(1.1220,1)" style="font-family:'Liberation Sans';font-size:25.94px;font-weight:normal;font-style:normal" fill="#000" >H</text>
<text transform="translate(210.45,221.00) scale(1.1892,1)" style="font-family:'Liberation Sans';font-size:22.04px;font-weight:normal;font-style:normal" fill="#000" >c</text>
<text transform="translate(187.81,285.80) scale(0.9339,1)" style="font-family:'Liberation Sans';font-size:23.70px;font-weight:normal;font-style:normal" fill="#000" >a</text>
<text transform="translate(260.42,278.80) scale(1.2083,1)" style="font-family:'Liberation Sans';font-size:22.62px;font-weight:normal;font-style:normal" fill="#000" >b</text>
<text transform="translate(505.91,78.70) scale(0.9635,1)" style="font-family:'Liberation Sans';font-size:27.17px;font-weight:normal;font-style:normal" fill="#000" >Pb</text>
<text transform="translate(538.10,83.90) scale(0.9504,1)" style="font-family:'Liberation Sans';font-size:17.25px;font-weight:normal;font-style:normal" fill="#000" >A</text>
<text transform="translate(505.91,134.90) scale(0.9734,1)" style="font-family:'Liberation Sans';font-size:26.90px;font-weight:normal;font-style:normal" fill="#000" >Pb</text>
<text transform="translate(538.12,140.10) scale(1.0141,1)" style="font-family:'Liberation Sans';font-size:16.96px;font-weight:normal;font-style:normal" fill="#000" >B</text>
<text transform="translate(505.91,167.90) scale(0.9685,1)" style="font-family:'Liberation Sans';font-size:27.03px;font-weight:normal;font-style:normal" fill="#000" >Pb</text>
<text transform="translate(537.89,173.40) scale(0.9157,1)" style="font-family:'Liberation Sans';font-size:17.71px;font-weight:normal;font-style:normal" fill="#000" >C</text>
<text transform="translate(505.91,220.90) scale(0.9587,1)" style="font-family:'Liberation Sans';font-size:27.31px;font-weight:normal;font-style:normal" fill="#000" >Pb</text>
<text transform="translate(538.00,226.20) scale(0.9967,1)" style="font-family:'Liberation Sans';font-size:17.54px;font-weight:normal;font-style:normal" fill="#000" >D</text>
<text transform="translate(147.68,378.70) scale(1.0718,1)" style="font-family:'Liberation Sans';font-size:27.03px;font-weight:normal;font-style:normal" fill="#000" >Pb(OH)Br</text>
<text transform="translate(274.85,384.10) scale(1.0344,1)" style="font-family:'Liberation Sans';font-size:27.72px;font-weight:normal;font-style:normal" fill="#000" >ad-</text>
<text transform="translate(473.68,378.70) scale(1.0718,1)" style="font-family:'Liberation Sans';font-size:27.03px;font-weight:normal;font-style:normal" fill="#000" >Pb(OH)Br</text>
<text transform="translate(600.83,384.10) scale(1.0529,1)" style="font-family:'Liberation Sans';font-size:27.72px;font-weight:normal;font-style:normal" fill="#000" >ad-</text>
<text transform="translate(15.88,403.90) scale(0.9575,1)" style="font-family:'Liberation Sans';font-size:27.72px;font-weight:normal;font-style:normal" fill="#000" >Pb</text>
<text transform="translate(49.00,408.90) scale(0.9252,1)" style="font-family:'Liberation Sans';font-size:17.39px;font-weight:normal;font-style:normal" fill="#000" >A</text>
<text transform="translate(15.73,446.20) scale(1.0209,1)" style="font-family:'Liberation Sans';font-size:25.38px;font-weight:normal;font-style:normal" fill="#000" >Pb</text>
<text transform="translate(48.45,451.30) scale(1.3032,1)" style="font-family:'Liberation Sans';font-size:13.91px;font-weight:normal;font-style:normal" fill="#000" >B</text>
<text transform="translate(-0.08,475.60) scale(1.0080,1)" style="font-family:'Liberation Sans';font-size:26.90px;font-weight:normal;font-style:normal" fill="#000" >d</text>
<text transform="translate(16.01,480.80) scale(1.1339,1)" style="font-family:'Liberation Sans';font-size:16.43px;font-weight:normal;font-style:normal" fill="#000" >Hg-O</text>
<text transform="translate(15.48,516.30) scale(1.0911,1)" style="font-family:'Liberation Sans';font-size:26.52px;font-weight:normal;font-style:normal" fill="#000" >Hg</text>
<text transform="translate(678.18,422.60) scale(0.9736,1)" style="font-family:'Liberation Sans';font-size:27.17px;font-weight:normal;font-style:normal" fill="#000" >Pb</text>
<text transform="translate(710.59,428.30) scale(0.9011,1)" style="font-family:'Liberation Sans';font-size:18.00px;font-weight:normal;font-style:normal" fill="#000" >C</text>
<text transform="translate(678.18,447.80) scale(0.9687,1)" style="font-family:'Liberation Sans';font-size:27.31px;font-weight:normal;font-style:normal" fill="#000" >Pb</text>
<text transform="translate(710.78,452.70) scale(1.0383,1)" style="font-family:'Liberation Sans';font-size:17.10px;font-weight:normal;font-style:normal" fill="#000" >B</text>
<text transform="translate(679.44,476.80) scale(1.0525,1)" style="font-family:'Liberation Sans';font-size:27.45px;font-weight:normal;font-style:normal" fill="#000" >d</text>
<text transform="translate(696.56,481.70) scale(1.1230,1)" style="font-family:'Liberation Sans';font-size:17.10px;font-weight:normal;font-style:normal" fill="#000" >Hg-Br</text>
<text transform="translate(155.86,685.80) scale(1.0195,1)" style="font-family:'Liberation Sans';font-size:29.93px;font-weight:normal;font-style:normal" fill="#000" >Pb(OH)Cl</text>
<text transform="translate(288.70,691.40) scale(1.0986,1)" style="font-family:'Liberation Sans';font-size:29.52px;font-weight:normal;font-style:normal" fill="#000" >ad-</text>
<text transform="translate(492.86,685.80) scale(1.0195,1)" style="font-family:'Liberation Sans';font-size:29.93px;font-weight:normal;font-style:normal" fill="#000" >Pb(OH)Cl</text>
<text transform="translate(625.50,691.40) scale(1.0858,1)" style="font-family:'Liberation Sans';font-size:29.93px;font-weight:normal;font-style:normal" fill="#000" >ad-</text>
<text transform="translate(11.35,712.80) scale(0.9330,1)" style="font-family:'Liberation Sans';font-size:30.21px;font-weight:normal;font-style:normal" fill="#000" >Pb</text>
<text transform="translate(46.20,718.50) scale(0.9155,1)" style="font-family:'Liberation Sans';font-size:19.71px;font-weight:normal;font-style:normal" fill="#000" >A</text>
<text transform="translate(10.81,749.50) scale(1.0539,1)" style="font-family:'Liberation Sans';font-size:27.17px;font-weight:normal;font-style:normal" fill="#000" >Pb</text>
<text transform="translate(45.73,755.40) scale(1.0921,1)" style="font-family:'Liberation Sans';font-size:17.97px;font-weight:normal;font-style:normal" fill="#000" >B</text>
<text transform="translate(-0.14,782.70) scale(0.9820,1)" style="font-family:'Liberation Sans';font-size:28.97px;font-weight:normal;font-style:normal" fill="#000" >d</text>
<text transform="translate(16.78,788.30) scale(1.1373,1)" style="font-family:'Liberation Sans';font-size:17.86px;font-weight:normal;font-style:normal" fill="#000" >Hg-O</text>
<text transform="translate(5.49,827.00) scale(1.0570,1)" style="font-family:'Liberation Sans';font-size:28.55px;font-weight:normal;font-style:normal" fill="#000" >Hg</text></g>
</svg></body></html>
